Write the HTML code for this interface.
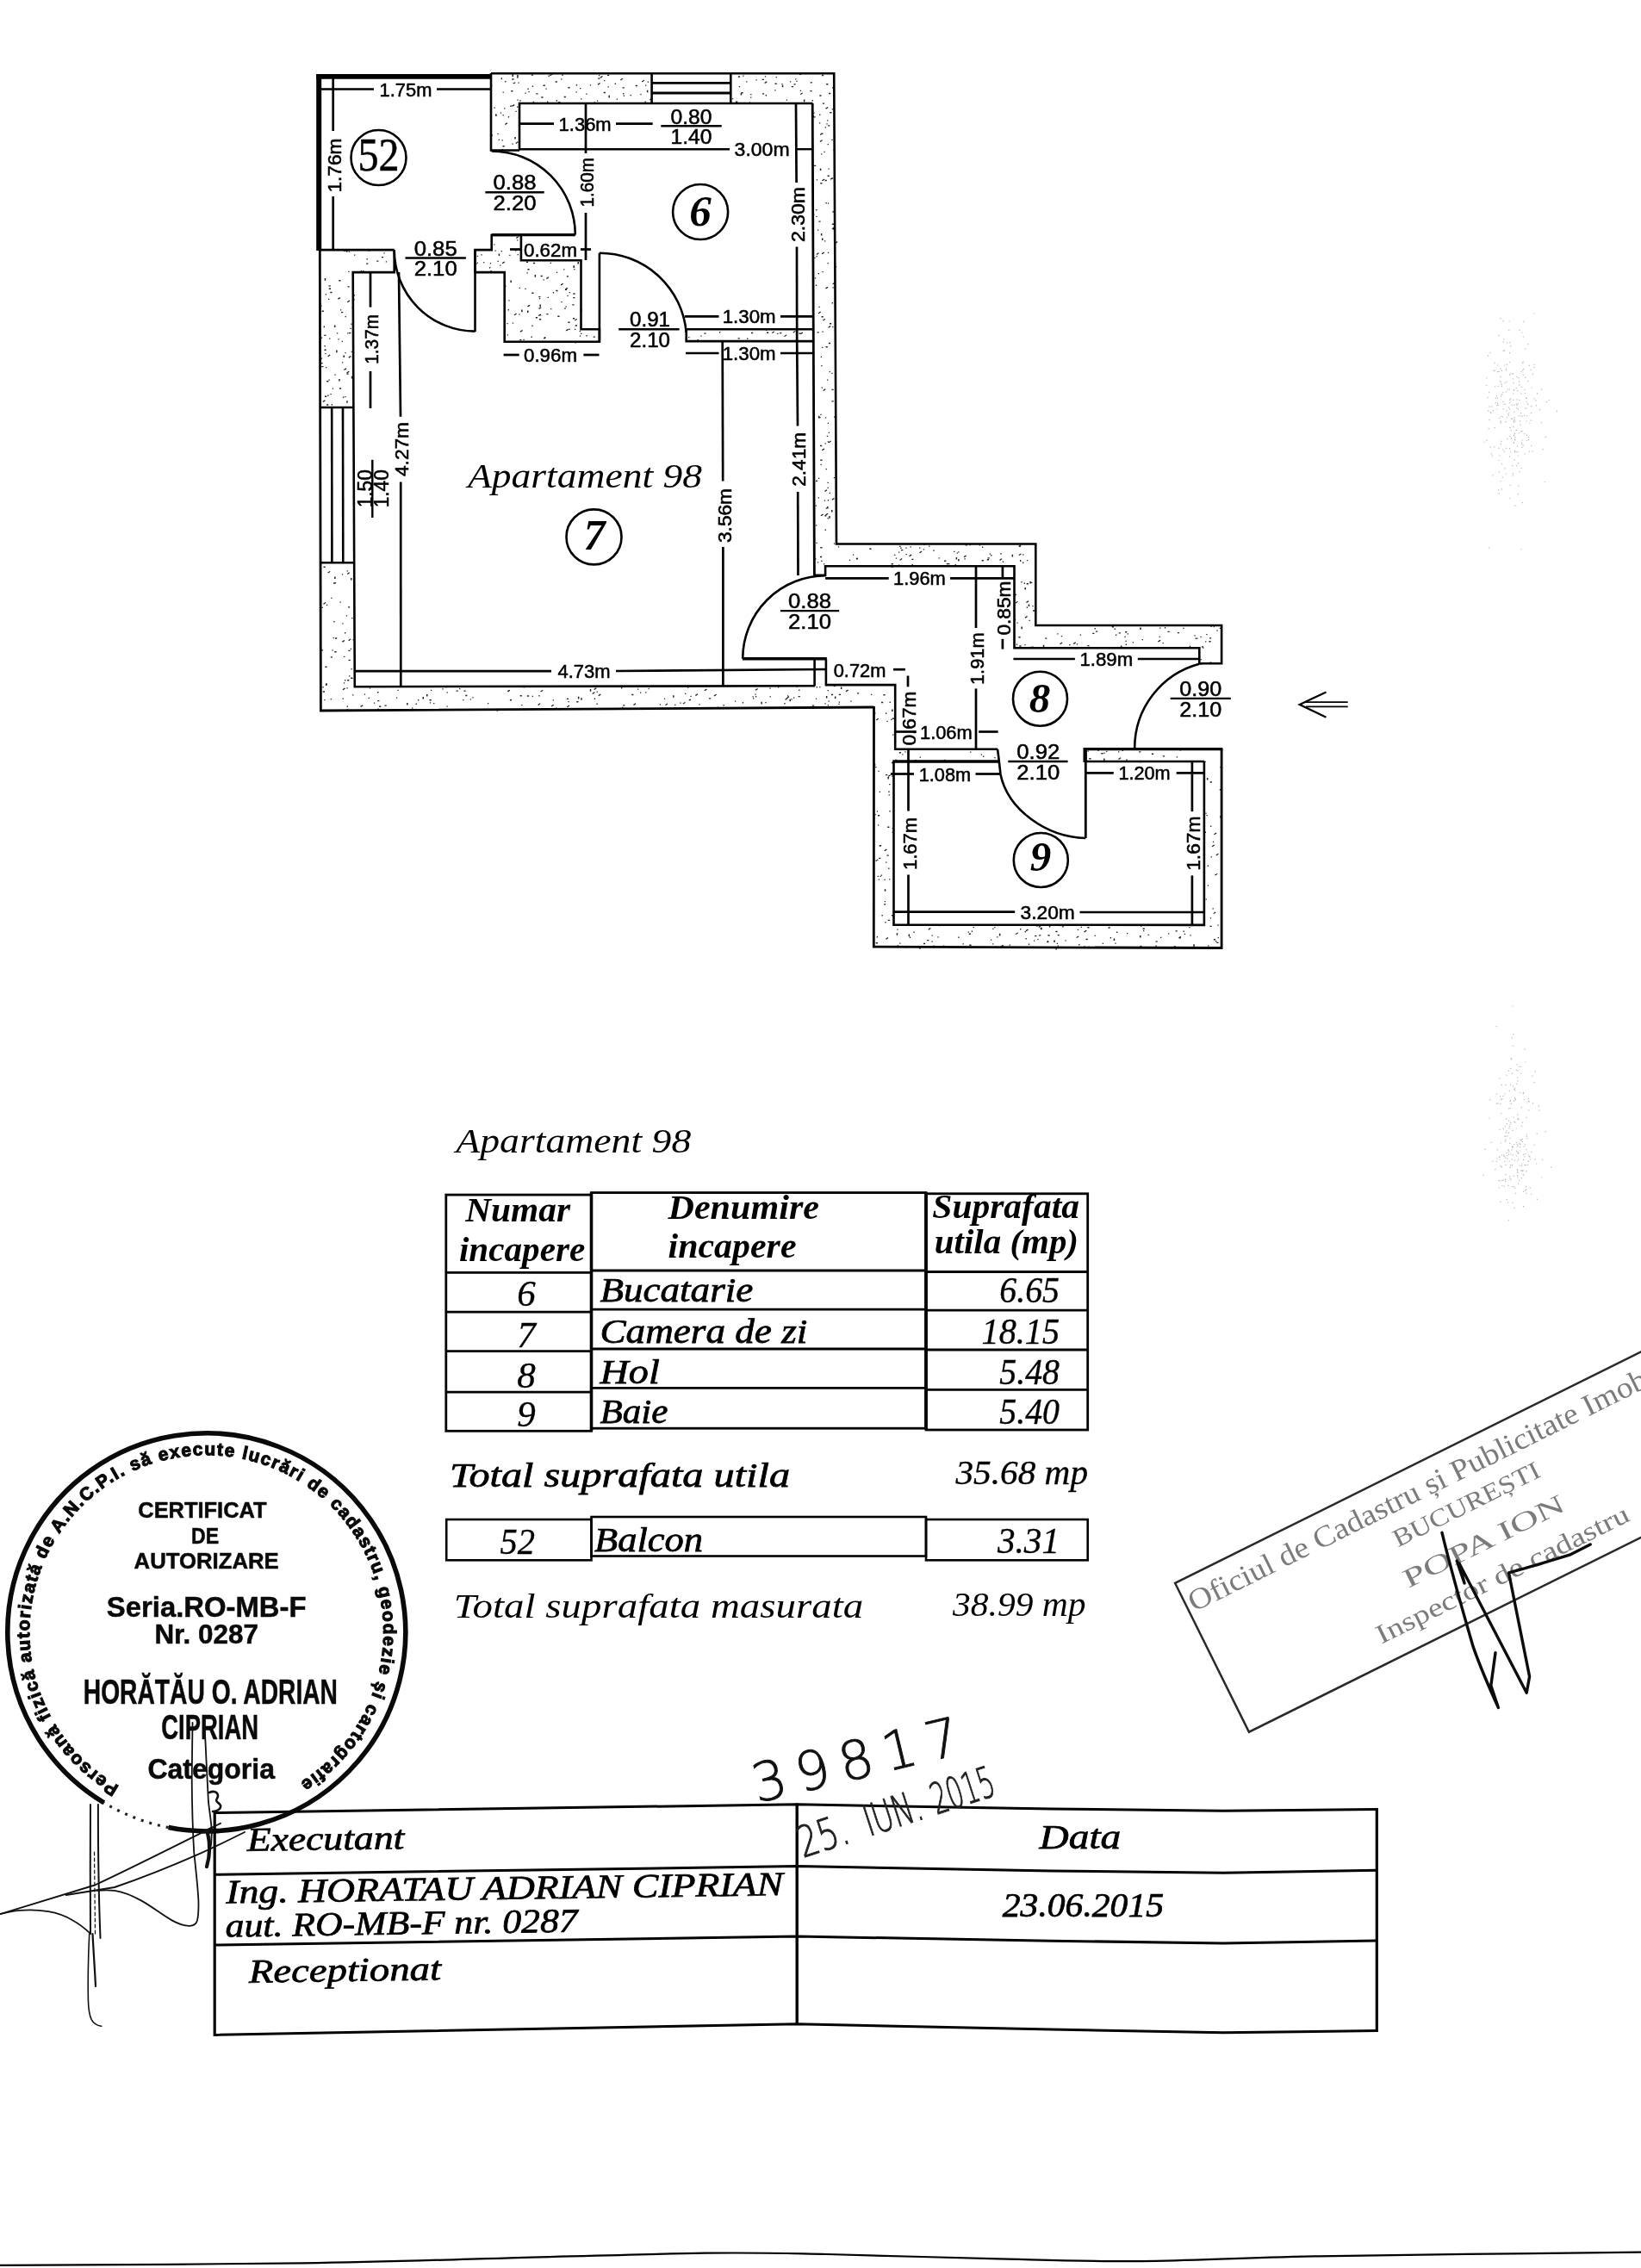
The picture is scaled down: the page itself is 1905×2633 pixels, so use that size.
<!DOCTYPE html>
<html lang="ro">
<head>
<meta charset="utf-8">
<title>Apartament 98 - releveu</title>
<style>
html,body{margin:0;padding:0;background:#fff;}
body{width:1905px;height:2633px;overflow:hidden;}
svg{display:block;opacity:0.999;will-change:transform;}
</style>
</head>
<body>
<svg width="1905" height="2633" viewBox="0 0 1905 2633">
<rect x="0" y="0" width="1905" height="2633" fill="#fff"/>
<g stroke="#000" fill="none" stroke-linecap="butt" stroke-linejoin="miter">
<path d="M630.6,98.5h2.2v1.4h-2.2zM583.5,133h1.3v1.3h-1.3zM580.8,130.4h1.3v1.3h-1.3zM651.1,91.3h1.3v1.3h-1.3zM593.2,105h2.2v1.4h-2.2zM578.7,161.8h1.3v1.3h-1.3zM597,95.5h1.3v1.3h-1.3zM722.6,101.2h2.2v1.4h-2.2zM689.5,118.3h1.3v1.3h-1.3zM581.7,90.3h1.3v1.3h-1.3zM654.7,111.8h2.2v1.4h-2.2zM700.7,106.8h2.2v1.4h-2.2zM706.4,110.8h1.5v2.6h-1.5zM592.1,122.4h2.2v1.4h-2.2zM598.4,128.8h1.3v1.3h-1.3zM694.2,90.4h2.2v1.4h-2.2zM723.7,110.5h1.3v1.3h-1.3zM695,87h1.3v1.3h-1.3zM601.4,95.5h1.3v1.3h-1.3zM713.7,96.6h1.3v1.3h-1.3zM585.1,125.2h1.3v1.3h-1.3zM731.6,109.9h1.3v1.3h-1.3zM749.1,98.5h1.3v1.3h-1.3zM613.4,105.9h1.3v1.3h-1.3zM680.2,108.5h1.3v1.3h-1.3zM648.3,118h2.2v1.4h-2.2zM696.4,89.8l2.6,-1.8l0.9,0.9l-2.6,1.8zM644.6,94.3h2.2v1.4h-2.2zM581.6,91h1.3v1.3h-1.3zM600.4,115.4h1.3v1.3h-1.3zM570,98.5h1.3v1.3h-1.3zM638,87.3l2.6,-1.8l0.9,0.9l-2.6,1.8zM684.8,98.3h1.3v1.3h-1.3zM635,117.6h1.3v1.3h-1.3zM586.1,94.1h1.3v1.3h-1.3zM600.2,87.1h1.5v2.6h-1.5zM668.8,98.1h1.3v1.3h-1.3zM575.1,132.3h1.5v2.6h-1.5zM618.8,117.8h1.3v1.3h-1.3zM715.7,114.5h1.3v1.3h-1.3zM636.5,87.6h1.3v1.3h-1.3zM622.3,108.2h2.2v1.4h-2.2zM748.6,117.6h1.3v1.3h-1.3zM612.4,102.6h1.3v1.3h-1.3zM585.9,144.1l2.6,-1.8l0.9,0.9l-2.6,1.8zM659.4,101h2.2v1.4h-2.2zM705.5,100.2h1.3v1.3h-1.3zM598.3,166l2.6,-1.8l0.9,0.9l-2.6,1.8zM597.3,159h1.5v2.6h-1.5zM692.9,116.4h1.3v1.3h-1.3zM594.5,86.3h1.5v2.6h-1.5zM609.5,107.5h1.3v1.3h-1.3zM594.5,166.4h1.3v1.3h-1.3zM573.5,124.4h1.3v1.3h-1.3zM570.7,156.5h1.3v1.3h-1.3zM674.1,114.2h1.3v1.3h-1.3zM589.8,135.1h1.3v1.3h-1.3zM595.6,95.9h1.3v1.3h-1.3zM583.6,106.5h1.3v1.3h-1.3zM737.7,98.8h2.2v1.4h-2.2zM693.5,97.8l2.6,-1.8l0.9,0.9l-2.6,1.8zM750.9,104.7h1.5v2.6h-1.5zM600.2,123.6h1.3v1.3h-1.3zM633.4,102.5h1.3v1.3h-1.3zM705,86.7h2.2v1.4h-2.2zM652.4,86.6h1.3v1.3h-1.3zM582,173.2h2.2v1.4h-2.2zM751.7,94.4h1.3v1.3h-1.3zM577.4,154.7h1.3v1.3h-1.3zM594.2,122.8l2.6,-1.8l0.9,0.9l-2.6,1.8zM723.1,108.1h1.3v1.3h-1.3zM701,93h1.3v1.3h-1.3zM583.5,169h2.2v1.4h-2.2zM719.9,92.5l2.6,-1.8l0.9,0.9l-2.6,1.8zM582.5,162.2h1.3v1.3h-1.3zM743.3,109h1.3v1.3h-1.3zM668.5,106.3h1.3v1.3h-1.3zM600.2,89.5h1.3v1.3h-1.3zM628.3,112.3h2.2v1.4h-2.2zM603.3,116.1h1.3v1.3h-1.3zM616.8,86.4h2.2v1.4h-2.2zM673,102h1.3v1.3h-1.3zM744.8,94.5l2.6,-1.8l0.9,0.9l-2.6,1.8zM753.7,115.7l2.6,-1.8l0.9,0.9l-2.6,1.8zM645.7,116.1h1.3v1.3h-1.3zM594.3,91.3h2.2v1.4h-2.2zM617.8,99.6h1.3v1.3h-1.3z" fill="#222" stroke="none"/>
<path d="M1396.2,751.5h1.3v1.3h-1.3zM962.6,430.9h1.3v1.3h-1.3zM965,592h1.5v2.6h-1.5zM1405.5,726.6h1.3v1.3h-1.3zM1109.6,646.9h1.5v2.6h-1.5zM968.1,483.5h1.3v1.3h-1.3zM862.2,87.5h1.3v1.3h-1.3zM957.7,147.2h1.3v1.3h-1.3zM860.4,107.1h2.2v1.4h-2.2zM1227.2,735.2h1.3v1.3h-1.3zM966.2,329.4l2.6,-1.8l0.9,0.9l-2.6,1.8zM958,334.6l2.6,-1.8l0.9,0.9l-2.6,1.8zM871.2,108.9h1.3v1.3h-1.3zM1393.4,738.7h1.3v1.3h-1.3zM952.3,635h2.2v1.4h-2.2zM960.5,601h1.3v1.3h-1.3zM884.9,108.2h2.2v1.4h-2.2zM1118.6,646.3l2.6,-1.8l0.9,0.9l-2.6,1.8zM1180.4,722.4h1.3v1.3h-1.3zM1089.5,647.2h1.3v1.3h-1.3zM940.7,95.2h2.2v1.4h-2.2zM1306.7,747.6h1.3v1.3h-1.3zM1201.6,650.1h1.3v1.3h-1.3zM966.7,265.1h1.3v1.3h-1.3zM951.8,195.5h1.5v2.6h-1.5zM1178.6,689.8h1.3v1.3h-1.3zM1072.7,631.6h1.3v1.3h-1.3zM961.7,501.7h1.3v1.3h-1.3zM947.5,297h1.3v1.3h-1.3zM1272,732.4h2.2v1.4h-2.2zM928.8,104.7h1.3v1.3h-1.3zM1055.1,645.3l2.6,-1.8l0.9,0.9l-2.6,1.8zM965.3,161.7h1.3v1.3h-1.3zM953.2,423.9h1.3v1.3h-1.3zM970.4,564.4h1.3v1.3h-1.3zM965.5,265.4l2.6,-1.8l0.9,0.9l-2.6,1.8zM965.7,351.1h1.3v1.3h-1.3zM952.3,533.5h2.2v1.4h-2.2zM1293.6,729.6h1.3v1.3h-1.3zM967.8,554h1.3v1.3h-1.3zM1270.6,729.1h1.3v1.3h-1.3zM972.8,634.3h1.3v1.3h-1.3zM954,86.8h2.2v1.4h-2.2zM960.5,559.8h1.3v1.3h-1.3zM1163.8,651.6h1.3v1.3h-1.3zM951.3,110.3h2.2v1.4h-2.2zM1058.3,648.7h2.2v1.4h-2.2zM1185.4,727.6h1.5v2.6h-1.5zM856.9,88.3h2.2v1.4h-2.2zM921.5,97.2h2.2v1.4h-2.2zM954.8,119.4h2.2v1.4h-2.2zM1191,699.1l2.6,-1.8l0.9,0.9l-2.6,1.8zM1182.4,644.2l2.6,-1.8l0.9,0.9l-2.6,1.8zM962.2,599.1h1.5v2.6h-1.5zM965.8,259.6h2.2v1.4h-2.2zM1178.4,699.7l2.6,-1.8l0.9,0.9l-2.6,1.8zM957.6,208.8h2.2v1.4h-2.2zM932.9,115.6h1.5v2.6h-1.5zM859.7,108h1.5v2.6h-1.5zM1314.7,745.3h1.3v1.3h-1.3zM951,142.3h1.3v1.3h-1.3zM1213.2,740.4h2.2v1.4h-2.2zM944.1,248.4h1.3v1.3h-1.3zM927.9,86.3l2.6,-1.8l0.9,0.9l-2.6,1.8zM960.1,139.3h1.3v1.3h-1.3zM963.3,130h2.2v1.4h-2.2zM1345.5,738.8h1.3v1.3h-1.3zM952,155.4h1.3v1.3h-1.3zM959.2,97.1h2.2v1.4h-2.2zM1185.3,675.1h1.3v1.3h-1.3zM1290.7,727.1h2.2v1.4h-2.2zM962.7,571.8h1.3v1.3h-1.3zM1325.7,742h1.3v1.3h-1.3zM854.1,117.5h2.2v1.4h-2.2zM1349.5,746h1.3v1.3h-1.3zM1150.2,644.1h1.3v1.3h-1.3zM952,516.8h2.2v1.4h-2.2zM1145.8,649.1h2.2v1.4h-2.2zM946.9,330.6h1.3v1.3h-1.3zM957,279.3h1.3v1.3h-1.3zM951.5,164l2.6,-1.8l0.9,0.9l-2.6,1.8zM871.1,112.4h1.3v1.3h-1.3zM960.9,292.7h1.3v1.3h-1.3zM1038.1,643.8h1.3v1.3h-1.3zM965.7,126.3h1.3v1.3h-1.3zM960.4,565.8h1.3v1.3h-1.3zM943.8,134.2h1.3v1.3h-1.3zM953.9,522.3l2.6,-1.8l0.9,0.9l-2.6,1.8zM953.2,650.6h1.3v1.3h-1.3zM1058.5,654.8h1.3v1.3h-1.3zM956.8,580.4h1.3v1.3h-1.3zM959.4,143.3h1.3v1.3h-1.3zM1403.4,744.1h2.2v1.4h-2.2zM1268.2,734.7h2.2v1.4h-2.2zM1308.7,735.2h1.3v1.3h-1.3zM951.9,645.8h2.2v1.4h-2.2zM1393.5,764.9h1.3v1.3h-1.3zM944.3,130.5h1.3v1.3h-1.3zM949.9,482.8h1.5v2.6h-1.5zM1191.7,677.1h2.2v1.4h-2.2zM960.1,587.9h1.5v2.6h-1.5zM955.3,453l2.6,-1.8l0.9,0.9l-2.6,1.8zM969,308.9h2.2v1.4h-2.2zM923.2,91.2h1.3v1.3h-1.3zM899.2,104.2h1.3v1.3h-1.3zM940.4,104.9h2.2v1.4h-2.2zM1044.2,633.6h1.3v1.3h-1.3zM1178.2,690h1.3v1.3h-1.3zM907.8,98.7h1.5v2.6h-1.5zM950,554.7h1.3v1.3h-1.3zM949,266.4h1.3v1.3h-1.3zM1194.5,719.8h1.3v1.3h-1.3zM1148.7,642.4h1.3v1.3h-1.3zM946.2,648.2h1.3v1.3h-1.3zM1051.3,635.4h1.3v1.3h-1.3zM1120.7,632.1h2.2v1.4h-2.2zM949.7,577.2h1.3v1.3h-1.3zM963,375h2.2v1.4h-2.2zM1177.9,718.8h1.3v1.3h-1.3zM1139.7,650.1h2.2v1.4h-2.2zM1056.5,634.2h1.3v1.3h-1.3zM1295,736.6h1.3v1.3h-1.3zM1415.8,728.8h1.3v1.3h-1.3zM1189.3,747.9h1.3v1.3h-1.3zM1043,640.5h1.3v1.3h-1.3zM961,235.5h1.3v1.3h-1.3zM1404.3,768.4h2.2v1.4h-2.2zM961.5,513.4l2.6,-1.8l0.9,0.9l-2.6,1.8zM1096.1,650.5h2.2v1.4h-2.2zM952.9,271h1.5v2.6h-1.5zM956,654.2h1.3v1.3h-1.3zM1107.1,639.7h1.3v1.3h-1.3zM945.3,298.8h1.3v1.3h-1.3zM1399.1,744.3h1.3v1.3h-1.3zM960.5,304.9h1.3v1.3h-1.3zM1083.3,638.6h1.3v1.3h-1.3zM1071.8,637.2h1.3v1.3h-1.3zM1191.9,649.9h1.3v1.3h-1.3zM1306.4,743.8h1.3v1.3h-1.3zM958.7,589.4h1.3v1.3h-1.3zM1247.7,751.8h2.2v1.4h-2.2zM1119.5,648.3h1.3v1.3h-1.3zM1067,641.4l2.6,-1.8l0.9,0.9l-2.6,1.8zM924.3,93.8h1.3v1.3h-1.3zM961.9,397.8h2.2v1.4h-2.2zM869.7,118.4h1.3v1.3h-1.3zM966.1,379h1.3v1.3h-1.3zM1241.2,748h1.3v1.3h-1.3zM969.1,281.9l2.6,-1.8l0.9,0.9l-2.6,1.8zM948.5,385.2h2.2v1.4h-2.2zM1043.1,655.4h1.3v1.3h-1.3zM958.5,235.1h1.3v1.3h-1.3zM947.1,243.1h1.3v1.3h-1.3zM1344,744.6l2.6,-1.8l0.9,0.9l-2.6,1.8zM1306.1,733h2.2v1.4h-2.2zM957.2,598.2h2.2v1.4h-2.2zM971.3,656.5h1.3v1.3h-1.3zM907.3,97h1.3v1.3h-1.3zM1182.2,634l2.6,-1.8l0.9,0.9l-2.6,1.8zM1249.8,747.2h1.3v1.3h-1.3zM993.8,648h2.2v1.4h-2.2zM887.9,88.3h1.3v1.3h-1.3zM1380.7,749.7h1.3v1.3h-1.3zM957,570l2.6,-1.8l0.9,0.9l-2.6,1.8zM957.9,484.2h1.3v1.3h-1.3zM1198.4,703h1.3v1.3h-1.3zM960.7,167h1.3v1.3h-1.3zM947,609.2h1.3v1.3h-1.3zM954.9,371.7l2.6,-1.8l0.9,0.9l-2.6,1.8zM1193.7,701.4h1.5v2.6h-1.5zM1039.8,647.4h1.3v1.3h-1.3zM1305.4,738.8h1.3v1.3h-1.3zM966.5,333.3h1.3v1.3h-1.3zM1146.5,647.2h2.2v1.4h-2.2zM1393.3,770.3h2.2v1.4h-2.2zM966.2,101.1h1.3v1.3h-1.3zM900.6,88.9h1.3v1.3h-1.3zM1191.7,704.6h1.3v1.3h-1.3zM961.4,195.5h1.3v1.3h-1.3zM952.7,413.7h1.3v1.3h-1.3zM960.8,490.7h1.3v1.3h-1.3zM944.4,135.2h2.2v1.4h-2.2zM958.1,125.8l2.6,-1.8l0.9,0.9l-2.6,1.8zM1366.9,733.9h2.2v1.4h-2.2zM958,597.6l2.6,-1.8l0.9,0.9l-2.6,1.8zM918.8,99.9h2.2v1.4h-2.2zM947.8,208.3h1.3v1.3h-1.3zM990,643.5h1.3v1.3h-1.3zM1197.3,750.5h2.2v1.4h-2.2zM1112.1,648.9h1.5v2.6h-1.5zM1179.9,747.6h1.3v1.3h-1.3zM884.7,91.7h2.2v1.4h-2.2zM965.3,432.8h1.3v1.3h-1.3zM1184,649.9h1.3v1.3h-1.3zM963.6,207.8l2.6,-1.8l0.9,0.9l-2.6,1.8zM1183.5,633.8h1.3v1.3h-1.3zM985.9,649.7h1.3v1.3h-1.3zM951.1,132.6h1.3v1.3h-1.3zM942.6,116.1h1.3v1.3h-1.3zM961.1,145.2h2.2v1.4h-2.2zM958.6,544h1.3v1.3h-1.3zM850.1,114h1.3v1.3h-1.3zM1183.3,749.3h2.2v1.4h-2.2zM960,440.5h1.3v1.3h-1.3zM953.7,449.5h1.3v1.3h-1.3zM969.4,394.8h1.3v1.3h-1.3zM966.2,245.2h2.2v1.4h-2.2zM1230,747.4l2.6,-1.8l0.9,0.9l-2.6,1.8zM957.6,614.6h1.3v1.3h-1.3zM1108.6,655.1h1.3v1.3h-1.3zM960.6,203.6h2.2v1.4h-2.2zM1100.2,653.9h2.2v1.4h-2.2zM949,652.3h1.3v1.3h-1.3zM1098.8,653.9h2.2v1.4h-2.2zM1197,675.7h1.3v1.3h-1.3zM960.8,580.1h1.3v1.3h-1.3zM1231.8,738h1.3v1.3h-1.3zM952.3,480.7h1.3v1.3h-1.3zM967.1,110.1h2.2v1.4h-2.2zM949.6,363.4l2.6,-1.8l0.9,0.9l-2.6,1.8zM950.4,355.7h1.3v1.3h-1.3zM1188.7,676.6h1.3v1.3h-1.3zM954.4,384.5h1.3v1.3h-1.3zM1412.4,731.4h1.3v1.3h-1.3zM958.6,402h2.2v1.4h-2.2zM945.1,191.7h2.2v1.4h-2.2zM968.9,315.6h1.3v1.3h-1.3zM1161.4,642.1h1.3v1.3h-1.3zM1189.5,716.8l2.6,-1.8l0.9,0.9l-2.6,1.8zM1245.7,747.1l2.6,-1.8l0.9,0.9l-2.6,1.8zM1189.5,681.9h1.5v2.6h-1.5zM1262.3,748.9h2.2v1.4h-2.2zM1182.4,739.1h2.2v1.4h-2.2zM1045.3,635.6h1.3v1.3h-1.3zM1034.8,656.5h1.5v2.6h-1.5zM1373.3,728.8h1.3v1.3h-1.3zM1355.5,732.7h2.2v1.4h-2.2zM954,209.3l2.6,-1.8l0.9,0.9l-2.6,1.8zM1046.1,637.9h2.2v1.4h-2.2zM1174.6,643.8h1.5v2.6h-1.5zM965.4,451.7h2.2v1.4h-2.2zM946.6,586.4h1.3v1.3h-1.3zM1351.9,728.1h1.3v1.3h-1.3zM1389.3,740.5h1.3v1.3h-1.3zM961.1,379.9l2.6,-1.8l0.9,0.9l-2.6,1.8zM950.4,256.4h2.2v1.4h-2.2zM1153.3,656.7h1.3v1.3h-1.3zM957.6,514.3h1.3v1.3h-1.3zM947.4,629.7h1.3v1.3h-1.3zM1067.1,635.4h1.3v1.3h-1.3zM1387.6,740.6h1.3v1.3h-1.3zM1187.2,643.3h1.3v1.3h-1.3zM1140,634.6h1.3v1.3h-1.3zM965.5,465.2h2.2v1.4h-2.2zM1044.1,649.9l2.6,-1.8l0.9,0.9l-2.6,1.8zM967.8,158.1h2.2v1.4h-2.2zM899.5,96.6h2.2v1.4h-2.2zM1346.1,728.5h1.3v1.3h-1.3zM1386.4,737.3h1.3v1.3h-1.3zM965.9,206.4h1.3v1.3h-1.3zM912.7,115.5h1.3v1.3h-1.3zM947.2,250.7h1.3v1.3h-1.3zM1078.1,633.4h1.3v1.3h-1.3zM1110.6,641.5h1.3v1.3h-1.3zM877.5,92.3h1.3v1.3h-1.3zM1125.5,632h1.3v1.3h-1.3zM1404,740.2h2.2v1.4h-2.2zM1184,650.8h1.3v1.3h-1.3zM1408.8,726.9h1.3v1.3h-1.3zM994.3,647.6h1.3v1.3h-1.3zM1300.9,749.6h1.5v2.6h-1.5zM953.5,367.1h2.2v1.4h-2.2zM953.1,154.6h2.2v1.4h-2.2zM954.1,402.7h1.3v1.3h-1.3zM888.7,110.1h1.3v1.3h-1.3zM928.7,109.2l2.6,-1.8l0.9,0.9l-2.6,1.8zM916.9,94.2h1.3v1.3h-1.3zM965.4,579.8l2.6,-1.8l0.9,0.9l-2.6,1.8zM887.2,96.1l2.6,-1.8l0.9,0.9l-2.6,1.8zM945.9,322.3h1.3v1.3h-1.3zM953.1,178.2h1.3v1.3h-1.3zM1394.8,750.2h2.2v1.4h-2.2zM1187,652.6h1.3v1.3h-1.3zM967.9,630.4h1.3v1.3h-1.3zM1051.5,643h1.3v1.3h-1.3zM1195.4,674.9h1.5v2.6h-1.5zM1323.2,728.5h1.5v2.6h-1.5zM954,276.5h1.5v2.6h-1.5zM1034.6,654.1h2.2v1.4h-2.2zM1210.8,748.7h1.5v2.6h-1.5zM951.3,483.9h1.3v1.3h-1.3zM960.7,512.3h1.3v1.3h-1.3zM1112.2,640.3h1.3v1.3h-1.3zM1009.3,636.5h2.2v1.4h-2.2zM1000.4,656.7h1.3v1.3h-1.3zM1298.6,734.2h2.2v1.4h-2.2zM1160.1,650l2.6,-1.8l0.9,0.9l-2.6,1.8zM949.7,316.9h1.3v1.3h-1.3zM1136.8,632.3h1.3v1.3h-1.3zM956.5,175.8h1.3v1.3h-1.3zM952.5,538.7h1.3v1.3h-1.3zM967.6,173.1h2.2v1.4h-2.2zM953.7,294.3l2.6,-1.8l0.9,0.9l-2.6,1.8zM962.1,107.8h2.2v1.4h-2.2zM857.8,100h1.3v1.3h-1.3zM947,557.7h2.2v1.4h-2.2zM1253.7,736.4h1.3v1.3h-1.3zM1400.2,736h1.3v1.3h-1.3zM866.1,94.2h1.3v1.3h-1.3zM952.5,598.4l2.6,-1.8l0.9,0.9l-2.6,1.8zM954.4,315h1.3v1.3h-1.3zM947.4,295l2.6,-1.8l0.9,0.9l-2.6,1.8zM1199,708.3h2.2v1.4h-2.2zM952.3,212.1h2.2v1.4h-2.2zM959.8,505.8h1.3v1.3h-1.3z" fill="#222" stroke="none"/>
<path d="M910,390.2l2.6,-1.8l0.9,0.9l-2.6,1.8zM809.6,394h1.3v1.3h-1.3zM890,385.5h2.2v1.4h-2.2zM856.6,392.2h2.2v1.4h-2.2zM817.4,386.4h2.2v1.4h-2.2zM799.1,391h1.3v1.3h-1.3zM902.2,386.8h1.3v1.3h-1.3zM867.1,392.6h1.3v1.3h-1.3zM872,385.8h2.2v1.4h-2.2zM835,385.1h1.3v1.3h-1.3zM928.8,387.3l2.6,-1.8l0.9,0.9l-2.6,1.8zM905.2,385.9h2.2v1.4h-2.2zM798,395.2h2.2v1.4h-2.2zM813.3,389.4h1.3v1.3h-1.3zM895.7,386.2l2.6,-1.8l0.9,0.9l-2.6,1.8zM888.6,383.2l2.6,-1.8l0.9,0.9l-2.6,1.8zM927.3,386.4h2.2v1.4h-2.2zM923.7,394.5h1.3v1.3h-1.3zM920.2,385.7l2.6,-1.8l0.9,0.9l-2.6,1.8z" fill="#222" stroke="none"/>
<path d="M650.6,330.6l2.6,-1.8l0.9,0.9l-2.6,1.8zM667.5,396h1.5v2.6h-1.5zM634.3,363.9h2.2v1.4h-2.2zM609.3,334.7h1.3v1.3h-1.3zM582.7,305.3l2.6,-1.8l0.9,0.9l-2.6,1.8zM673.7,359.3h2.2v1.4h-2.2zM625.2,343.9h2.2v1.4h-2.2zM588.3,374.9h1.3v1.3h-1.3zM666.8,371.7l2.6,-1.8l0.9,0.9l-2.6,1.8zM588.6,388.2h1.3v1.3h-1.3zM616.5,390.6h1.3v1.3h-1.3zM552.2,305.7h1.3v1.3h-1.3zM670.5,303.9h1.5v2.6h-1.5zM654.1,312.3h1.3v1.3h-1.3zM665.2,344.9h2.2v1.4h-2.2zM600.6,288.8h1.3v1.3h-1.3zM658.3,342.7h1.3v1.3h-1.3zM586.3,331.8h1.3v1.3h-1.3zM666.2,312h1.3v1.3h-1.3zM607.4,393.7h1.3v1.3h-1.3zM612.4,312h2.2v1.4h-2.2zM655.9,335.6l2.6,-1.8l0.9,0.9l-2.6,1.8zM665,369.1h2.2v1.4h-2.2zM590.3,348.2h1.3v1.3h-1.3zM617.3,339.5h2.2v1.4h-2.2zM591.2,295.8h1.3v1.3h-1.3zM674.1,386.7h1.3v1.3h-1.3zM603.5,384.8l2.6,-1.8l0.9,0.9l-2.6,1.8zM692.8,395.8h1.3v1.3h-1.3zM561.1,303.9h1.3v1.3h-1.3zM553.7,304.4h1.3v1.3h-1.3zM569.3,313.9h1.3v1.3h-1.3zM667,381.8h1.3v1.3h-1.3zM667.7,377.3h2.2v1.4h-2.2zM594.8,374.4h1.3v1.3h-1.3zM651.3,349.9h1.3v1.3h-1.3zM625.9,346h1.3v1.3h-1.3zM660.6,338.9h1.3v1.3h-1.3zM635.7,344.7h1.3v1.3h-1.3zM625.1,358.1l2.6,-1.8l0.9,0.9l-2.6,1.8zM626,370h2.2v1.4h-2.2zM568.8,305h1.3v1.3h-1.3zM602.6,333.8h1.3v1.3h-1.3zM605.1,359.6h1.5v2.6h-1.5zM597.7,290.9l2.6,-1.8l0.9,0.9l-2.6,1.8zM611.5,316.3h1.3v1.3h-1.3zM656.7,383.6l2.6,-1.8l0.9,0.9l-2.6,1.8zM604.8,273.9h1.3v1.3h-1.3zM600.6,294.9h1.3v1.3h-1.3zM610.9,303.5h2.2v1.4h-2.2zM598.9,276l2.6,-1.8l0.9,0.9l-2.6,1.8zM660.4,381.6h1.3v1.3h-1.3zM589.6,359.1h1.3v1.3h-1.3zM592.4,325.4h1.5v2.6h-1.5zM659.4,373.5h2.2v1.4h-2.2zM577.5,302.8h1.3v1.3h-1.3zM578.7,294.5h1.5v2.6h-1.5zM665.5,308.3h1.5v2.6h-1.5zM574.5,290.4h1.3v1.3h-1.3zM665.4,340.3h2.2v1.4h-2.2zM600.1,278.2h1.3v1.3h-1.3zM655.9,335.7h2.2v1.4h-2.2zM580.2,307.5h1.3v1.3h-1.3zM674.4,360h1.3v1.3h-1.3zM618.9,304.8h2.2v1.4h-2.2zM655.3,357.6h1.3v1.3h-1.3zM672.6,384h1.3v1.3h-1.3zM626.4,353.5h1.5v2.6h-1.5zM645.3,336.8h2.2v1.4h-2.2zM630.5,324.2h1.3v1.3h-1.3zM596.5,365.4l2.6,-1.8l0.9,0.9l-2.6,1.8zM617.4,377.6h1.3v1.3h-1.3zM626,365.1h2.2v1.4h-2.2zM645.8,315.8h1.3v1.3h-1.3zM633.9,323.1l2.6,-1.8l0.9,0.9l-2.6,1.8zM647.3,366.5h2.2v1.4h-2.2zM656.4,355.5h1.3v1.3h-1.3zM621.8,368h2.2v1.4h-2.2zM641.8,339.1h1.3v1.3h-1.3zM612,355.6l2.6,-1.8l0.9,0.9l-2.6,1.8zM680.4,389.1h1.3v1.3h-1.3zM581.7,291h1.3v1.3h-1.3zM612,360.5h1.5v2.6h-1.5zM632.1,390.9h1.3v1.3h-1.3zM568,310.1h1.3v1.3h-1.3zM620.6,319.1h1.5v2.6h-1.5zM558.4,295.3h1.3v1.3h-1.3zM631.1,391.8h2.2v1.4h-2.2zM603.2,393.9h2.2v1.4h-2.2zM638.7,304.7h1.3v1.3h-1.3zM627.6,319.8h2.2v1.4h-2.2zM624.6,366.2l2.6,-1.8l0.9,0.9l-2.6,1.8zM657.8,320.2h2.2v1.4h-2.2zM553.8,296.8h1.3v1.3h-1.3zM602.3,364.3h1.3v1.3h-1.3zM688.7,390.4h2.2v1.4h-2.2zM672.9,389.4h1.3v1.3h-1.3zM664.3,353.2h2.2v1.4h-2.2zM573.1,283.3h1.3v1.3h-1.3zM639.1,358h1.3v1.3h-1.3z" fill="#222" stroke="none"/>
<path d="M393.2,440h1.5v2.6h-1.5zM407.4,375.6h1.3v1.3h-1.3zM377.7,341.3h1.3v1.3h-1.3zM392.4,393.3h1.3v1.3h-1.3zM442.9,297.9h2.2v1.4h-2.2zM400.6,366.9h1.3v1.3h-1.3zM402.2,465.2h1.5v2.6h-1.5zM388.4,434.4h1.3v1.3h-1.3zM418.7,314.1h1.3v1.3h-1.3zM376.7,323.1h1.5v2.6h-1.5zM404.2,314.8h1.3v1.3h-1.3zM376.5,401.1h1.3v1.3h-1.3zM390.1,406.6h1.5v2.6h-1.5zM372.5,420.9h2.2v1.4h-2.2zM372.3,354.4h1.3v1.3h-1.3zM400.3,471.9h1.3v1.3h-1.3zM381.5,331.2h1.3v1.3h-1.3zM406.4,380.8h1.3v1.3h-1.3zM385.8,450.5h1.3v1.3h-1.3zM387.9,377.4h1.5v2.6h-1.5zM383.3,338.8h2.2v1.4h-2.2zM400.3,460h1.3v1.3h-1.3zM391.9,346.8l2.6,-1.8l0.9,0.9l-2.6,1.8zM380.1,413.4l2.6,-1.8l0.9,0.9l-2.6,1.8zM375.7,378.5h1.3v1.3h-1.3zM381.8,334.6h2.2v1.4h-2.2zM421,314h1.3v1.3h-1.3zM377,459.5h2.2v1.4h-2.2zM393.3,325.1h2.2v1.4h-2.2zM398.5,412.4h1.5v2.6h-1.5zM375.6,379h1.3v1.3h-1.3zM380.2,458.6h1.3v1.3h-1.3zM378.1,426h1.3v1.3h-1.3zM382.1,392.4h1.3v1.3h-1.3zM394,450.3h2.2v1.4h-2.2zM409,372.6h1.3v1.3h-1.3zM402.2,432.5l2.6,-1.8l0.9,0.9l-2.6,1.8zM397,420.2h1.3v1.3h-1.3zM372,415.4h2.2v1.4h-2.2zM399.8,472.1h2.2v1.4h-2.2zM399,429.1l2.6,-1.8l0.9,0.9l-2.6,1.8zM383.4,456.9h1.3v1.3h-1.3zM395,359.2h1.3v1.3h-1.3zM376.5,405.5h2.2v1.4h-2.2zM445.4,293.3h1.3v1.3h-1.3zM372.9,391.5h1.3v1.3h-1.3zM391,386.2h1.3v1.3h-1.3zM374.4,466.1l2.6,-1.8l0.9,0.9l-2.6,1.8zM377.3,410h1.3v1.3h-1.3zM381.4,440.5h1.3v1.3h-1.3zM405.1,385.9h2.2v1.4h-2.2zM376.3,388.7h2.2v1.4h-2.2zM404.3,414.8l2.6,-1.8l0.9,0.9l-2.6,1.8zM403.2,386.3h1.3v1.3h-1.3zM396,361.9h2.2v1.4h-2.2zM384.6,469.1h1.3v1.3h-1.3zM373.7,360.6h2.2v1.4h-2.2zM379.1,469.3h2.2v1.4h-2.2zM411,295.4h1.3v1.3h-1.3zM400.4,408.9h1.3v1.3h-1.3zM425.1,305.4h2.2v1.4h-2.2zM427.5,291.1l2.6,-1.8l0.9,0.9l-2.6,1.8zM409.8,373.3h1.3v1.3h-1.3zM403.5,332.2h2.2v1.4h-2.2zM425.5,300.1h1.3v1.3h-1.3zM396.7,395.8h1.3v1.3h-1.3zM382.5,331.2h1.3v1.3h-1.3zM409.7,342h2.2v1.4h-2.2zM447.8,303.2h1.3v1.3h-1.3zM381,346.8h1.3v1.3h-1.3zM408.6,356.6h2.2v1.4h-2.2zM407.6,407.7h1.3v1.3h-1.3zM447.8,315.7h1.3v1.3h-1.3zM437.2,302.4h2.2v1.4h-2.2zM373.3,424.9h2.2v1.4h-2.2zM399.1,290.6h2.2v1.4h-2.2zM402.9,350.3l2.6,-1.8l0.9,0.9l-2.6,1.8zM390.4,472.4h1.3v1.3h-1.3zM409.5,346.9h2.2v1.4h-2.2zM407.8,436.8h1.5v2.6h-1.5zM404.8,291.4h1.3v1.3h-1.3zM402,290.2h1.5v2.6h-1.5zM397.9,460.6h1.3v1.3h-1.3zM402.4,433.4h2.2v1.4h-2.2zM379.2,442.1h2.2v1.4h-2.2z" fill="#222" stroke="none"/>
<path d="M770.9,810.4h1.3v1.3h-1.3zM910.3,816.1h1.3v1.3h-1.3zM1027.9,1089.9l2.6,-1.8l0.9,0.9l-2.6,1.8zM811.3,817.2h1.3v1.3h-1.3zM1016.8,835.5l2.6,-1.8l0.9,0.9l-2.6,1.8zM591.9,812h2.2v1.4h-2.2zM689.2,800.1l2.6,-1.8l0.9,0.9l-2.6,1.8zM1094.5,883.2l2.6,-1.8l0.9,0.9l-2.6,1.8zM888.3,814.9h1.3v1.3h-1.3zM1399.6,1043.5h1.3v1.3h-1.3zM1023.5,1062.1h1.3v1.3h-1.3zM401.8,714.2h1.3v1.3h-1.3zM482.5,816.6h1.3v1.3h-1.3zM1400.9,902.9h1.5v2.6h-1.5zM1026.4,1020.7h1.3v1.3h-1.3zM1416.3,947.1h1.5v2.6h-1.5zM1032.4,941.1h1.3v1.3h-1.3zM1028.1,898.9h2.2v1.4h-2.2zM627.1,802.7l2.6,-1.8l0.9,0.9l-2.6,1.8zM375,700.9l2.6,-1.8l0.9,0.9l-2.6,1.8zM1258.9,1099.7h2.2v1.4h-2.2zM723.2,818.2h2.2v1.4h-2.2zM1152.2,1077.7h1.3v1.3h-1.3zM461.5,800.7h1.3v1.3h-1.3zM1381.4,1085.2h1.3v1.3h-1.3zM1405.6,994.3h1.3v1.3h-1.3zM1154.3,879h1.3v1.3h-1.3zM957.4,816.3h1.3v1.3h-1.3zM540.2,806.8h2.2v1.4h-2.2zM404.3,754.7h2.2v1.4h-2.2zM641.6,812.2h1.3v1.3h-1.3zM926.6,807.9h2.2v1.4h-2.2zM781.1,807.2h1.5v2.6h-1.5zM964.9,805.8h2.2v1.4h-2.2zM1233.2,1074h1.5v2.6h-1.5zM1405.1,958.6h1.3v1.3h-1.3zM752.5,798.9h1.3v1.3h-1.3zM1281,880.5h1.5v2.6h-1.5zM1125.3,1096.6h2.2v1.4h-2.2zM1404.7,907.3h2.2v1.4h-2.2zM1035.7,833.5h2.2v1.4h-2.2zM1341.5,1097.6h1.3v1.3h-1.3zM942.9,818.4h2.2v1.4h-2.2zM960.8,817.9h1.3v1.3h-1.3zM1026.1,1049.2h2.2v1.4h-2.2zM995,804.2h2.2v1.4h-2.2zM1374.8,1083.7h1.3v1.3h-1.3zM375.5,657.5h2.2v1.4h-2.2zM1019.4,894.8h1.3v1.3h-1.3zM1249.2,1088.2l2.6,-1.8l0.9,0.9l-2.6,1.8zM1347,1087.8h1.3v1.3h-1.3zM1368.4,1088.1h2.2v1.4h-2.2zM1190.5,1089.1h1.3v1.3h-1.3zM377.4,773.6h2.2v1.4h-2.2zM396.9,744.8l2.6,-1.8l0.9,0.9l-2.6,1.8zM903,797.1h1.3v1.3h-1.3zM1369.4,1086.9h1.5v2.6h-1.5zM1322.1,872.2h2.2v1.4h-2.2zM669.2,814.1h2.2v1.4h-2.2zM1322.2,1099.4l2.6,-1.8l0.9,0.9l-2.6,1.8zM625.3,807.1h1.3v1.3h-1.3zM383.8,762.2h2.2v1.4h-2.2zM1217.4,1085.5h1.3v1.3h-1.3zM726.5,821.7h1.3v1.3h-1.3zM1016.7,1094h2.2v1.4h-2.2zM1227.7,1084.9h2.2v1.4h-2.2zM911.1,811.8l2.6,-1.8l0.9,0.9l-2.6,1.8zM1025.4,806h2.2v1.4h-2.2zM1408.3,1060.2l2.6,-1.8l0.9,0.9l-2.6,1.8zM440.1,819.6h2.2v1.4h-2.2zM946.9,810.5h1.3v1.3h-1.3zM1020.9,981h2.2v1.4h-2.2zM438.4,822.6h1.3v1.3h-1.3zM1402.1,1097.2h1.3v1.3h-1.3zM639.7,819.5l2.6,-1.8l0.9,0.9l-2.6,1.8zM1050.4,872.2h1.3v1.3h-1.3zM1206.1,1085.2h2.2v1.4h-2.2zM921,809.5h1.3v1.3h-1.3zM485.1,812.1h1.3v1.3h-1.3zM981.5,802.3l2.6,-1.8l0.9,0.9l-2.6,1.8zM1020.1,995.7h2.2v1.4h-2.2zM1364.6,1080.2h2.2v1.4h-2.2zM1035.3,900.4h1.3v1.3h-1.3zM1034.9,1062.1h2.2v1.4h-2.2zM1398.7,965.6h1.3v1.3h-1.3zM386.6,740h1.3v1.3h-1.3zM380.1,664.7l2.6,-1.8l0.9,0.9l-2.6,1.8zM927.2,800.6h1.3v1.3h-1.3zM968.9,808.4h1.5v2.6h-1.5zM1189.5,1099.1h1.3v1.3h-1.3zM1280.6,1099.4h1.3v1.3h-1.3zM500,800.8h1.3v1.3h-1.3zM839.5,818.1h1.3v1.3h-1.3zM1035.6,960.9h2.2v1.4h-2.2zM409.1,806.2h1.3v1.3h-1.3zM806.9,807.1l2.6,-1.8l0.9,0.9l-2.6,1.8zM388.8,676h1.3v1.3h-1.3zM589.6,801.3h1.3v1.3h-1.3zM1296,1081.6h1.3v1.3h-1.3zM1413.4,1073.5h1.3v1.3h-1.3zM1294.3,1094.5h1.3v1.3h-1.3zM378.9,701.8h1.3v1.3h-1.3zM1031.6,922.3h1.3v1.3h-1.3zM1189.6,1081.1h1.3v1.3h-1.3zM495,806h1.5v2.6h-1.5zM1341.5,1092.4h2.2v1.4h-2.2zM438.3,803h1.3v1.3h-1.3zM1262.5,871.5h1.3v1.3h-1.3zM1117.5,1095.3h1.3v1.3h-1.3zM376.3,812h1.3v1.3h-1.3zM1088.4,1087.2h1.3v1.3h-1.3zM1270.6,1085.7h1.3v1.3h-1.3zM498.9,815.2h1.3v1.3h-1.3zM1415.8,916.1h1.3v1.3h-1.3zM387.2,721.1h1.3v1.3h-1.3zM428.8,798.3h1.3v1.3h-1.3zM388.1,669.5h1.5v2.6h-1.5zM533.1,799h1.3v1.3h-1.3zM503.1,815.9h1.3v1.3h-1.3zM877,808.1h1.3v1.3h-1.3zM914,807.2h1.3v1.3h-1.3zM612,807.3h2.2v1.4h-2.2zM1404.5,1074.7h2.2v1.4h-2.2zM975.9,797.4h1.5v2.6h-1.5zM1252.2,1096.1h1.3v1.3h-1.3zM1332.6,1084.7h1.3v1.3h-1.3zM410.9,715.2h1.3v1.3h-1.3zM1060,1098.6h2.2v1.4h-2.2zM853,813.5h1.3v1.3h-1.3zM1162.5,1098.4h2.2v1.4h-2.2zM1400.4,946h1.3v1.3h-1.3zM402.5,798.2h1.3v1.3h-1.3zM1026.8,1045.9h1.3v1.3h-1.3zM1030.7,1067.7h2.2v1.4h-2.2zM1298,872.3h1.3v1.3h-1.3zM1416.3,889.9h1.3v1.3h-1.3zM973.7,814.4h1.3v1.3h-1.3zM1149.9,1090.4h1.3v1.3h-1.3zM1015.4,945h1.3v1.3h-1.3zM1406.6,982.4l2.6,-1.8l0.9,0.9l-2.6,1.8zM876.5,800.8l2.6,-1.8l0.9,0.9l-2.6,1.8zM947.6,797.1h1.3v1.3h-1.3zM1250.8,1078.8h1.3v1.3h-1.3zM1112.3,1087.6h1.3v1.3h-1.3zM1362.6,1098.2h2.2v1.4h-2.2zM1026.8,1032.2h1.5v2.6h-1.5zM1081.5,1085.5h1.3v1.3h-1.3zM798,797.4h1.3v1.3h-1.3zM446.5,818.4h2.2v1.4h-2.2zM1017.8,941.3h1.3v1.3h-1.3zM973.8,805.7h2.2v1.4h-2.2zM1302.7,870.6h1.3v1.3h-1.3zM1083.6,1097.5h1.3v1.3h-1.3zM1067.6,878.4h1.3v1.3h-1.3zM1161.6,1098.6l2.6,-1.8l0.9,0.9l-2.6,1.8zM1060.4,1081.6h1.3v1.3h-1.3zM545.7,811.3h1.3v1.3h-1.3zM1401.7,1004.6h1.3v1.3h-1.3zM1029.5,992.4h2.2v1.4h-2.2zM1205.3,1076l2.6,-1.8l0.9,0.9l-2.6,1.8zM694.3,807.4l2.6,-1.8l0.9,0.9l-2.6,1.8zM397.5,800.3l2.6,-1.8l0.9,0.9l-2.6,1.8zM1207.6,1077.3h2.2v1.4h-2.2zM657.9,820.4l2.6,-1.8l0.9,0.9l-2.6,1.8zM695.6,805.9h1.3v1.3h-1.3zM643.3,823l2.6,-1.8l0.9,0.9l-2.6,1.8zM1036.1,852.5h1.3v1.3h-1.3zM399.1,761.8h1.3v1.3h-1.3zM1323.1,883.8h2.2v1.4h-2.2zM1215.3,1092.9h2.2v1.4h-2.2zM1030.2,959.6h2.2v1.4h-2.2zM1286.5,1076.3h2.2v1.4h-2.2zM605.2,818h1.3v1.3h-1.3zM404.5,765.7h2.2v1.4h-2.2zM670.9,808.8h1.5v2.6h-1.5zM418.1,820.1l2.6,-1.8l0.9,0.9l-2.6,1.8zM1411.4,992.5l2.6,-1.8l0.9,0.9l-2.6,1.8zM1324,1074.4h1.3v1.3h-1.3zM1410,1015.7l2.6,-1.8l0.9,0.9l-2.6,1.8zM490.5,809h1.5v2.6h-1.5zM1020.7,918.8h1.3v1.3h-1.3zM1397.4,883.6h2.2v1.4h-2.2zM817.4,801.3l2.6,-1.8l0.9,0.9l-2.6,1.8zM387.1,676.3h2.2v1.4h-2.2zM406.7,752.7h1.3v1.3h-1.3zM743,803.5h1.3v1.3h-1.3zM1067.1,1099.2h1.5v2.6h-1.5zM1035.6,965.4h2.2v1.4h-2.2zM1018.6,1016.7h1.3v1.3h-1.3zM1171.6,1096.4h1.3v1.3h-1.3zM1404.8,1065.3h1.3v1.3h-1.3zM1327,1080h1.3v1.3h-1.3zM378.6,793.7h1.3v1.3h-1.3zM1184,1078.1h1.3v1.3h-1.3zM576.7,823.2h1.5v2.6h-1.5zM1041.8,1097.3h1.3v1.3h-1.3zM1369.3,870.9l2.6,-1.8l0.9,0.9l-2.6,1.8zM1308,1083h1.3v1.3h-1.3zM603.6,807.1h2.2v1.4h-2.2zM1034.1,834.7h1.3v1.3h-1.3zM372.9,754.2h2.2v1.4h-2.2zM740,799.5h1.3v1.3h-1.3zM373.6,704.8h1.3v1.3h-1.3zM617.6,807.8h1.3v1.3h-1.3zM1292.7,1089.4h1.5v2.6h-1.5zM374.8,802.3h2.2v1.4h-2.2zM1407.9,976.7h1.3v1.3h-1.3zM1019,946.1h2.2v1.4h-2.2zM1284.1,871.7h1.3v1.3h-1.3zM402.3,823.4h2.2v1.4h-2.2zM792.4,816.7l2.6,-1.8l0.9,0.9l-2.6,1.8zM1274.3,870.8h1.3v1.3h-1.3zM861.8,815.1h1.3v1.3h-1.3zM1138.7,875.5h1.3v1.3h-1.3zM513.3,799.3h1.3v1.3h-1.3zM397.6,810.4h1.3v1.3h-1.3zM566,815.9h1.3v1.3h-1.3zM1034.9,884.8h2.2v1.4h-2.2zM1201.1,1085.9h2.2v1.4h-2.2zM1336.9,874.6h2.2v1.4h-2.2zM518.5,803.3h1.3v1.3h-1.3zM404.2,743.2l2.6,-1.8l0.9,0.9l-2.6,1.8zM1051,1099.1h1.3v1.3h-1.3zM657.8,810.7h2.2v1.4h-2.2zM1023,814.8h2.2v1.4h-2.2zM384.3,693.7h1.3v1.3h-1.3zM472.1,815.9h1.5v2.6h-1.5zM607.5,797.1h1.3v1.3h-1.3zM410.8,778.4h1.3v1.3h-1.3zM1152.1,1095.3h1.3v1.3h-1.3zM1029.4,836.7h1.3v1.3h-1.3zM1030.7,901l2.6,-1.8l0.9,0.9l-2.6,1.8zM1288.7,1088.1h1.3v1.3h-1.3zM394.5,698.4h1.3v1.3h-1.3zM407.5,776h1.3v1.3h-1.3zM438.2,812.9h2.2v1.4h-2.2zM960.6,801h1.3v1.3h-1.3zM874,810.2h1.3v1.3h-1.3zM967.3,796.6l2.6,-1.8l0.9,0.9l-2.6,1.8zM893.4,798.4h1.3v1.3h-1.3zM1039.4,881.4h1.3v1.3h-1.3zM1216.4,1085.1h1.3v1.3h-1.3zM478,821.5h1.3v1.3h-1.3zM765.8,817.2h1.3v1.3h-1.3zM624.1,818l2.6,-1.8l0.9,0.9l-2.6,1.8zM1226.7,1094.8h1.3v1.3h-1.3zM1229.9,1074.6l2.6,-1.8l0.9,0.9l-2.6,1.8zM1157.3,1087.2h1.3v1.3h-1.3zM1016.2,890h1.3v1.3h-1.3zM1071.9,1094.8h2.2v1.4h-2.2zM873.5,808.2h1.3v1.3h-1.3zM538.4,801.4h2.2v1.4h-2.2zM1030.4,901.9h1.5v2.6h-1.5zM1127.7,1080.6h1.3v1.3h-1.3zM1200,1091.4h1.3v1.3h-1.3zM408.1,716.9h1.3v1.3h-1.3zM1036.3,884.9h1.3v1.3h-1.3zM388.4,756.1h2.2v1.4h-2.2zM733.2,805.8h2.2v1.4h-2.2zM1028.1,1000.5h1.3v1.3h-1.3zM1031.2,1007.6h1.3v1.3h-1.3zM876.4,805.5h1.3v1.3h-1.3zM832.3,820.8h2.2v1.4h-2.2zM1062,882h2.2v1.4h-2.2zM1032.1,1020.2h1.3v1.3h-1.3zM1041.3,1078.5h1.3v1.3h-1.3zM772,818.2l2.6,-1.8l0.9,0.9l-2.6,1.8zM1254.6,1075.8h1.3v1.3h-1.3zM1258.2,1081.6l2.6,-1.8l0.9,0.9l-2.6,1.8zM1412.4,1093.7h2.2v1.4h-2.2zM1159.9,1083.8h1.5v2.6h-1.5zM398.9,792.3h1.3v1.3h-1.3zM400,734.1h1.3v1.3h-1.3zM687.3,805l2.6,-1.8l0.9,0.9l-2.6,1.8zM1373.6,1080.6h1.3v1.3h-1.3zM1026.3,987.3l2.6,-1.8l0.9,0.9l-2.6,1.8zM1262.3,1076h2.2v1.4h-2.2zM692.6,802.5h1.3v1.3h-1.3zM1356,1083.2h1.3v1.3h-1.3zM1032.6,814.6h1.3v1.3h-1.3zM404.7,742.6h1.3v1.3h-1.3zM828.6,807.5l2.6,-1.8l0.9,0.9l-2.6,1.8zM913,810l2.6,-1.8l0.9,0.9l-2.6,1.8zM517.7,797h1.3v1.3h-1.3zM1258.5,1098.2h1.3v1.3h-1.3zM1141.1,877.6h1.3v1.3h-1.3zM1021.5,1016.7h1.3v1.3h-1.3zM405,784.2h1.3v1.3h-1.3zM1380.3,1075.9h1.3v1.3h-1.3zM537.3,812h1.3v1.3h-1.3zM721,798.1h1.3v1.3h-1.3zM1043.8,873.1h2.2v1.4h-2.2zM1409,968.4l2.6,-1.8l0.9,0.9l-2.6,1.8zM518.4,819.5h1.3v1.3h-1.3zM1279.7,1094.7h1.3v1.3h-1.3zM1123.6,1081.5h1.3v1.3h-1.3zM893.5,808.2h1.3v1.3h-1.3zM400,789.1h1.3v1.3h-1.3zM1011,805.7h1.3v1.3h-1.3zM1190.5,1080.3l2.6,-1.8l0.9,0.9l-2.6,1.8zM1278.3,874h2.2v1.4h-2.2zM1014.8,886.7h1.5v2.6h-1.5zM402.6,819.6h1.3v1.3h-1.3zM1095.1,1097.5h1.3v1.3h-1.3zM987.2,813.4h1.3v1.3h-1.3zM924.6,796.8h1.3v1.3h-1.3zM1326.6,1077.5h2.2v1.4h-2.2zM1054.6,1084.6h1.5v2.6h-1.5zM407.2,786.6h2.2v1.4h-2.2zM951.2,797h1.3v1.3h-1.3zM1154.2,1075.9h1.3v1.3h-1.3zM1407.5,1054.2h1.3v1.3h-1.3zM433.9,815.5h1.3v1.3h-1.3zM722,820.7h1.3v1.3h-1.3zM1225.4,1099.8h1.5v2.6h-1.5zM438,803.3h1.3v1.3h-1.3zM1047.2,875.3h1.3v1.3h-1.3zM1020.6,981.4h1.3v1.3h-1.3zM1202.8,1074.2h2.2v1.4h-2.2zM1298.1,881l2.6,-1.8l0.9,0.9l-2.6,1.8zM883.4,814.8h1.5v2.6h-1.5zM409.5,741.9h1.3v1.3h-1.3zM1411,1092.1h1.3v1.3h-1.3zM1204.3,1089.9h1.3v1.3h-1.3zM404,704.2h2.2v1.4h-2.2zM396.9,666.2h1.3v1.3h-1.3zM1077.3,1078.8l2.6,-1.8l0.9,0.9l-2.6,1.8zM383.6,810.9h1.3v1.3h-1.3zM1307.3,881.4h1.5v2.6h-1.5zM918.4,811.3h1.3v1.3h-1.3zM548.3,809.2h1.3v1.3h-1.3zM735,818.1l2.6,-1.8l0.9,0.9l-2.6,1.8zM389,740.3h2.2v1.4h-2.2zM385.5,754.3h1.3v1.3h-1.3zM1081.5,1092.5h1.3v1.3h-1.3zM958.9,808h1.5v2.6h-1.5zM823,810.2h2.2v1.4h-2.2zM789.3,815.5h1.3v1.3h-1.3zM1178.7,1084.2l2.6,-1.8l0.9,0.9l-2.6,1.8zM1014.5,949.4h1.3v1.3h-1.3zM407,670.9h1.5v2.6h-1.5zM674.2,810.2h1.5v2.6h-1.5zM1193.9,1095.6h1.3v1.3h-1.3zM659.4,814h1.3v1.3h-1.3zM801.4,807.8h1.3v1.3h-1.3zM1017.8,1087.1h1.3v1.3h-1.3zM1124.7,1083.6h2.2v1.4h-2.2zM554.2,822.9h1.3v1.3h-1.3zM1027.3,1070.1h1.3v1.3h-1.3zM1037.3,903.2h1.3v1.3h-1.3zM1385.3,1096.3h1.5v2.6h-1.5zM402.7,666l2.6,-1.8l0.9,0.9l-2.6,1.8zM1227.7,1097.5h1.3v1.3h-1.3zM1208.1,1076.7h1.5v2.6h-1.5zM1028,827.6h1.3v1.3h-1.3zM1401.8,1027.4h1.3v1.3h-1.3zM799.8,811.8h2.2v1.4h-2.2zM1365.7,878.2h1.3v1.3h-1.3zM749.2,803.3h1.3v1.3h-1.3zM1260.5,1089.8h2.2v1.4h-2.2zM1015.2,827.2h1.3v1.3h-1.3zM1018.1,997.7h1.3v1.3h-1.3zM1223.3,1091.4h1.5v2.6h-1.5zM1022.8,1015.4h1.3v1.3h-1.3zM1090.1,1073.9h1.3v1.3h-1.3zM402.6,662.2h1.3v1.3h-1.3zM961.5,813.5h1.3v1.3h-1.3zM498.5,812h2.2v1.4h-2.2zM973.3,816.8h1.3v1.3h-1.3zM403.1,789.1h2.2v1.4h-2.2zM1019,957.3h1.3v1.3h-1.3zM1225.4,1080.8h2.2v1.4h-2.2zM1072.2,1073.7h1.3v1.3h-1.3zM1129.6,1076h1.3v1.3h-1.3zM1263.6,1098.8h1.3v1.3h-1.3zM689.8,810.6h1.3v1.3h-1.3zM1264.3,880h2.2v1.4h-2.2zM427.7,809.7h1.3v1.3h-1.3zM1126.1,872.5h1.3v1.3h-1.3zM783.2,817.8h1.3v1.3h-1.3zM1032.1,910h1.3v1.3h-1.3zM916.5,811.7h1.5v2.6h-1.5zM422.8,805.4h1.3v1.3h-1.3zM1016.6,998.6h1.3v1.3h-1.3zM1349.9,877.2h2.2v1.4h-2.2zM529.6,801.4h2.2v1.4h-2.2zM1031.3,918.6h1.3v1.3h-1.3zM1413.6,1088h1.3v1.3h-1.3zM1399.3,943.5h1.3v1.3h-1.3zM1217.9,1073.9h1.5v2.6h-1.5zM1019.7,1020.4h1.3v1.3h-1.3zM459.9,809.4h1.3v1.3h-1.3zM1040.7,1083.2h1.5v2.6h-1.5zM692.5,816.6h1.3v1.3h-1.3zM1055.8,1087.6h1.3v1.3h-1.3zM1408.9,1090.1h2.2v1.4h-2.2zM374.4,797.1h1.3v1.3h-1.3zM1044.2,1094.4h1.3v1.3h-1.3zM1035.1,823.5h1.5v2.6h-1.5zM1323,1085.9h1.5v2.6h-1.5zM1281.3,873.8h1.3v1.3h-1.3zM378,793.3h1.5v2.6h-1.5zM1076.2,1090.9h2.2v1.4h-2.2zM1215.7,1092h1.3v1.3h-1.3zM684.8,800.1h1.5v2.6h-1.5zM1236.4,1091.2h1.3v1.3h-1.3zM588.8,802.6l2.6,-1.8l0.9,0.9l-2.6,1.8zM397.2,723.2h1.3v1.3h-1.3zM795,804.8h1.3v1.3h-1.3z" fill="#222" stroke="none"/>
<line x1="367.2" y1="88.8" x2="571" y2="88.8" stroke-width="5.8"/>
<line x1="370.2" y1="86" x2="370.2" y2="291" stroke-width="6"/>
<line x1="570" y1="85.2" x2="969" y2="85.2" stroke-width="2.4"/>
<line x1="371" y1="290.1" x2="457.7" y2="290.1" stroke-width="2.6"/>
<line x1="373" y1="103.5" x2="434" y2="103.5" stroke-width="2.7"/>
<line x1="507" y1="103.5" x2="570" y2="103.5" stroke-width="2.7"/>
<text x="440.6" y="111.5" font-size="22.5" font-family='"Liberation Sans", Arial, sans-serif' textLength="60.8" lengthAdjust="spacingAndGlyphs" fill="#000" stroke="#000" stroke-width="0.55">1.75m</text>
<line x1="386.7" y1="91" x2="386.7" y2="152" stroke-width="2.7"/>
<line x1="386.7" y1="228" x2="386.7" y2="289" stroke-width="2.7"/>
<text x="395.5" y="223.5" font-size="22.5" font-family='"Liberation Sans", Arial, sans-serif' textLength="62.9" lengthAdjust="spacingAndGlyphs" transform="rotate(-90 395.5 223.5)" fill="#000" stroke="#000" stroke-width="0.55">1.76m</text>
<circle cx="439.5" cy="183" r="32" stroke-width="2.6"/>
<circle cx="813.1" cy="246" r="32" stroke-width="2.6"/>
<circle cx="689.5" cy="623.4" r="32" stroke-width="2.6"/>
<circle cx="1207.5" cy="811.2" r="31.5" stroke-width="2.6"/>
<circle cx="1208.3" cy="998.5" r="31.5" stroke-width="2.6"/>
<path d="M570,85 L570,174.5 L603,174.5" stroke-width="2.6" fill="none"/>
<path d="M603,174.5 L603,120 L943.5,120" stroke-width="2.6" fill="none"/>
<line x1="603" y1="173.2" x2="847" y2="173.2" stroke-width="2.4"/>
<line x1="923" y1="173.2" x2="943.5" y2="173.2" stroke-width="2.4"/>
<text x="852.6" y="181.2" font-size="22.5" font-family='"Liberation Sans", Arial, sans-serif' textLength="64" lengthAdjust="spacingAndGlyphs" fill="#000" stroke="#000" stroke-width="0.55">3.00m</text>
<line x1="680" y1="120" x2="680" y2="178" stroke-width="2.7"/>
<line x1="680" y1="247" x2="680" y2="302" stroke-width="2.7"/>
<text x="689" y="240.6" font-size="22.5" font-family='"Liberation Sans", Arial, sans-serif' textLength="57.6" lengthAdjust="spacingAndGlyphs" transform="rotate(-90 689 240.6)" fill="#000" stroke="#000" stroke-width="0.55">1.60m</text>
<line x1="604" y1="143.6" x2="643" y2="143.6" stroke-width="2.7"/>
<line x1="715" y1="143.6" x2="757.7" y2="143.6" stroke-width="2.7"/>
<text x="648.6" y="151.6" font-size="22.5" font-family='"Liberation Sans", Arial, sans-serif' textLength="61.1" lengthAdjust="spacingAndGlyphs" fill="#000" stroke="#000" stroke-width="0.55">1.36m</text>
<line x1="756.6" y1="85" x2="756.6" y2="120" stroke-width="2.6"/>
<line x1="848.3" y1="85" x2="848.3" y2="120" stroke-width="2.6"/>
<line x1="756.6" y1="96.3" x2="848.3" y2="96.3" stroke-width="2.8"/>
<line x1="756.6" y1="108" x2="848.3" y2="108" stroke-width="2.8"/>
<line x1="767.3" y1="146.3" x2="837.7" y2="146.3" stroke-width="2.4"/>
<text x="778.5" y="143.5" font-size="24.5" font-family='"Liberation Sans", Arial, sans-serif' textLength="48" lengthAdjust="spacingAndGlyphs" fill="#000" stroke="#000" stroke-width="0.55">0.80</text>
<text x="778.5" y="166.9" font-size="24.5" font-family='"Liberation Sans", Arial, sans-serif' textLength="48" lengthAdjust="spacingAndGlyphs" fill="#000" stroke="#000" stroke-width="0.55">1.40</text>
<path d="M968.2,84 L971,631.5 L1202.3,631.5 L1202.3,726 L1418.1,726 L1418.1,770.3 L1392.3,770.3 L1392.3,752.3 L1177.5,752.3 L1177.5,657.2 L958.1,657.2 L958.1,667.8 L945.4,667.8" stroke-width="2.6" fill="none"/>
<path d="M943.2,120 L944.3,396.1 L945.4,668" stroke-width="2.8" fill="none"/>
<line x1="924" y1="120" x2="924.6" y2="212" stroke-width="2.7"/>
<line x1="925" y1="286.5" x2="925.2" y2="396" stroke-width="2.7"/>
<text x="933.5" y="281" font-size="22.5" font-family='"Liberation Sans", Arial, sans-serif' textLength="64" lengthAdjust="spacingAndGlyphs" transform="rotate(-90 933.5 281)" fill="#000" stroke="#000" stroke-width="0.55">2.30m</text>
<line x1="925.2" y1="396" x2="926" y2="494.4" stroke-width="2.7"/>
<line x1="926.2" y1="571" x2="926.5" y2="668" stroke-width="2.7"/>
<text x="935" y="564.8" font-size="22.5" font-family='"Liberation Sans", Arial, sans-serif' textLength="63" lengthAdjust="spacingAndGlyphs" transform="rotate(-90 935 564.8)" fill="#000" stroke="#000" stroke-width="0.55">2.41m</text>
<path d="M944.3,382.2 L796.7,382.2 L796.7,396.1 L944.3,396.1" stroke-width="2.6" fill="none"/>
<line x1="795" y1="367.3" x2="834.5" y2="367.3" stroke-width="2.7"/>
<line x1="906" y1="367.3" x2="944" y2="367.3" stroke-width="2.7"/>
<text x="838.7" y="375.3" font-size="22.5" font-family='"Liberation Sans", Arial, sans-serif' textLength="61.9" lengthAdjust="spacingAndGlyphs" fill="#000" stroke="#000" stroke-width="0.55">1.30m</text>
<line x1="796" y1="410" x2="834.5" y2="410" stroke-width="2.7"/>
<line x1="906" y1="410" x2="944.6" y2="410" stroke-width="2.7"/>
<text x="838.7" y="418" font-size="22.5" font-family='"Liberation Sans", Arial, sans-serif' textLength="61.9" lengthAdjust="spacingAndGlyphs" fill="#000" stroke="#000" stroke-width="0.55">1.30m</text>
<line x1="838.7" y1="396" x2="839.2" y2="558.4" stroke-width="2.7"/>
<line x1="839.4" y1="635" x2="839.4" y2="796.3" stroke-width="2.7"/>
<text x="848.5" y="630" font-size="22.5" font-family='"Liberation Sans", Arial, sans-serif' textLength="63" lengthAdjust="spacingAndGlyphs" transform="rotate(-90 848.5 630)" fill="#000" stroke="#000" stroke-width="0.55">3.56m</text>
<path d="M570.7,273 L570.7,290.1 L551.5,290.1 L551.5,316.1 L585.7,316.1 L585.7,396.7 L695.9,396.7 L695.9,382.2 L674.5,382.2 L674.5,302.3 L604.9,302.3 L604.9,273 Z" stroke-width="2.6" fill="none"/>
<line x1="570.7" y1="272.6" x2="667.8" y2="272.6" stroke-width="3.4"/>
<path d="M570.7,175.5 A97,97 0 0 1 667.8,272.5" stroke-width="2.6" fill="none"/>
<line x1="563.4" y1="223.2" x2="631.7" y2="223.2" stroke-width="2.4"/>
<text x="572.5" y="220.4" font-size="24.5" font-family='"Liberation Sans", Arial, sans-serif' textLength="50" lengthAdjust="spacingAndGlyphs" fill="#000" stroke="#000" stroke-width="0.55">0.88</text>
<text x="572.5" y="243.8" font-size="24.5" font-family='"Liberation Sans", Arial, sans-serif' textLength="50" lengthAdjust="spacingAndGlyphs" fill="#000" stroke="#000" stroke-width="0.55">2.20</text>
<line x1="592" y1="289.5" x2="604.9" y2="289.5" stroke-width="2.7"/>
<line x1="674" y1="289.5" x2="686" y2="289.5" stroke-width="2.7"/>
<text x="608" y="297.5" font-size="22.5" font-family='"Liberation Sans", Arial, sans-serif' textLength="62" lengthAdjust="spacingAndGlyphs" fill="#000" stroke="#000" stroke-width="0.55">0.62m</text>
<line x1="584.6" y1="412" x2="602.7" y2="412" stroke-width="2.7"/>
<line x1="677.4" y1="412" x2="695.5" y2="412" stroke-width="2.7"/>
<text x="608" y="420" font-size="22.5" font-family='"Liberation Sans", Arial, sans-serif' textLength="62" lengthAdjust="spacingAndGlyphs" fill="#000" stroke="#000" stroke-width="0.55">0.96m</text>
<line x1="551.5" y1="290" x2="551.5" y2="385" stroke-width="2.6"/>
<path d="M457.7,290.1 A94,94 0 0 0 551.5,384.6" stroke-width="2.6" fill="none"/>
<line x1="470.5" y1="299.5" x2="540.9" y2="299.5" stroke-width="2.4"/>
<text x="480.7" y="296.7" font-size="24.5" font-family='"Liberation Sans", Arial, sans-serif' textLength="50" lengthAdjust="spacingAndGlyphs" fill="#000" stroke="#000" stroke-width="0.55">0.85</text>
<text x="480.7" y="320.1" font-size="24.5" font-family='"Liberation Sans", Arial, sans-serif' textLength="50" lengthAdjust="spacingAndGlyphs" fill="#000" stroke="#000" stroke-width="0.55">2.10</text>
<line x1="695.9" y1="293.7" x2="695.9" y2="396.5" stroke-width="2.6"/>
<path d="M695.9,293.7 A101,101 0 0 1 796.7,386" stroke-width="2.6" fill="none"/>
<line x1="718.2" y1="382.2" x2="788.6" y2="382.2" stroke-width="2.4"/>
<text x="731" y="379.4" font-size="24.5" font-family='"Liberation Sans", Arial, sans-serif' textLength="47" lengthAdjust="spacingAndGlyphs" fill="#000" stroke="#000" stroke-width="0.55">0.91</text>
<text x="731" y="402.8" font-size="24.5" font-family='"Liberation Sans", Arial, sans-serif' textLength="47" lengthAdjust="spacingAndGlyphs" fill="#000" stroke="#000" stroke-width="0.55">2.10</text>
<path d="M371.3,290 L372.4,825 L1014.5,821" stroke-width="2.8" fill="none"/>
<path d="M457.7,290.1 L457.7,316.1 L409.7,316.1 L411.8,797.2 L946,796.3" stroke-width="2.6" fill="none"/>
<line x1="372" y1="473" x2="411" y2="473" stroke-width="2.4"/>
<line x1="372.2" y1="653.3" x2="411.6" y2="653.3" stroke-width="2.4"/>
<line x1="385.2" y1="473" x2="385.4" y2="653.3" stroke-width="2.6"/>
<line x1="398" y1="473" x2="398.3" y2="653.3" stroke-width="2.6"/>
<line x1="430" y1="316" x2="430" y2="356.6" stroke-width="2.7"/>
<line x1="430" y1="431" x2="430" y2="474" stroke-width="2.7"/>
<text x="439" y="422.7" font-size="22.5" font-family='"Liberation Sans", Arial, sans-serif' textLength="57.7" lengthAdjust="spacingAndGlyphs" transform="rotate(-90 439 422.7)" fill="#000" stroke="#000" stroke-width="0.55">1.37m</text>
<line x1="463" y1="316" x2="465" y2="483.7" stroke-width="2.7"/>
<line x1="465.2" y1="559.4" x2="465.3" y2="797" stroke-width="2.7"/>
<text x="474" y="553" font-size="22.5" font-family='"Liberation Sans", Arial, sans-serif' textLength="63" lengthAdjust="spacingAndGlyphs" transform="rotate(-90 474 553)" fill="#000" stroke="#000" stroke-width="0.55">4.27m</text>
<line x1="432.3" y1="533.8" x2="432.3" y2="601" stroke-width="2.4"/>
<text x="432" y="589.3" font-size="23" font-family='"Liberation Sans", Arial, sans-serif' textLength="44" lengthAdjust="spacingAndGlyphs" transform="rotate(-90 432 589.3)" fill="#000" stroke="#000" stroke-width="0.55">1.50</text>
<text x="451" y="589.3" font-size="23" font-family='"Liberation Sans", Arial, sans-serif' textLength="44" lengthAdjust="spacingAndGlyphs" transform="rotate(-90 451 589.3)" fill="#000" stroke="#000" stroke-width="0.55">1.40</text>
<line x1="411.8" y1="779.1" x2="640" y2="779.1" stroke-width="2.7"/>
<line x1="715" y1="779" x2="958.5" y2="777" stroke-width="2.7"/>
<text x="647.5" y="787" font-size="22.5" font-family='"Liberation Sans", Arial, sans-serif' textLength="61.1" lengthAdjust="spacingAndGlyphs" fill="#000" stroke="#000" stroke-width="0.55">4.73m</text>
<line x1="945.6" y1="764.7" x2="945.6" y2="796.4" stroke-width="2.6"/>
<line x1="958.9" y1="764.7" x2="958.9" y2="796.4" stroke-width="2.6"/>
<line x1="862" y1="764.7" x2="959.8" y2="764.7" stroke-width="3.4"/>
<path d="M862.2,764.7 A96.4,96.4 0 0 1 958.6,668.3" stroke-width="2.6" fill="none"/>
<line x1="905.9" y1="709.1" x2="974.2" y2="709.1" stroke-width="2.4"/>
<text x="915" y="706.3" font-size="24.5" font-family='"Liberation Sans", Arial, sans-serif' textLength="50" lengthAdjust="spacingAndGlyphs" fill="#000" stroke="#000" stroke-width="0.55">0.88</text>
<text x="915" y="729.7" font-size="24.5" font-family='"Liberation Sans", Arial, sans-serif' textLength="50" lengthAdjust="spacingAndGlyphs" fill="#000" stroke="#000" stroke-width="0.55">2.10</text>
<path d="M958.9,795.1 L1039.2,795.1 L1039.2,869.8 L1158,869.8" stroke-width="2.6" fill="none"/>
<path d="M1014.5,820 L1014.3,1099.2 L1418.1,1100.5 L1418.1,869.3" stroke-width="2.8" fill="none"/>
<line x1="958.1" y1="671.4" x2="1031.7" y2="671.4" stroke-width="2.7"/>
<line x1="1103" y1="671.4" x2="1177.5" y2="671.4" stroke-width="2.7"/>
<text x="1037" y="679.4" font-size="22.5" font-family='"Liberation Sans", Arial, sans-serif' textLength="60.8" lengthAdjust="spacingAndGlyphs" fill="#000" stroke="#000" stroke-width="0.55">1.96m</text>
<line x1="1133" y1="657.2" x2="1133" y2="729" stroke-width="2.7"/>
<line x1="1133" y1="799.4" x2="1133" y2="869.8" stroke-width="2.7"/>
<text x="1142" y="795" font-size="22.5" font-family='"Liberation Sans", Arial, sans-serif' textLength="60.6" lengthAdjust="spacingAndGlyphs" transform="rotate(-90 1142 795)" fill="#000" stroke="#000" stroke-width="0.55">1.91m</text>
<line x1="1163.9" y1="657.2" x2="1163.9" y2="671.4" stroke-width="2.7"/>
<line x1="1163.9" y1="741.8" x2="1163.9" y2="753.6" stroke-width="2.7"/>
<text x="1173" y="737.6" font-size="22.5" font-family='"Liberation Sans", Arial, sans-serif' textLength="63" lengthAdjust="spacingAndGlyphs" transform="rotate(-90 1173 737.6)" fill="#000" stroke="#000" stroke-width="0.55">0.85m</text>
<line x1="1176.4" y1="765" x2="1247.9" y2="765" stroke-width="2.7"/>
<line x1="1320.8" y1="765" x2="1392.3" y2="765" stroke-width="2.7"/>
<text x="1253.5" y="773" font-size="22.5" font-family='"Liberation Sans", Arial, sans-serif' textLength="61.7" lengthAdjust="spacingAndGlyphs" fill="#000" stroke="#000" stroke-width="0.55">1.89m</text>
<text x="967.7" y="785.5" font-size="22.5" font-family='"Liberation Sans", Arial, sans-serif' textLength="60.8" lengthAdjust="spacingAndGlyphs" fill="#000" stroke="#000" stroke-width="0.55">0.72m</text>
<line x1="1037" y1="777.2" x2="1050.9" y2="777.2" stroke-width="2.7"/>
<line x1="1054" y1="784.5" x2="1054" y2="797.3" stroke-width="2.7"/>
<text x="1063" y="865.5" font-size="22.5" font-family='"Liberation Sans", Arial, sans-serif' textLength="62.9" lengthAdjust="spacingAndGlyphs" transform="rotate(-90 1063 865.5)" fill="#000" stroke="#000" stroke-width="0.55">0.67m</text>
<line x1="1039.2" y1="849.5" x2="1063.7" y2="849.5" stroke-width="2.7"/>
<line x1="1136.2" y1="849.5" x2="1158.6" y2="849.5" stroke-width="2.7"/>
<text x="1068" y="857.5" font-size="22.5" font-family='"Liberation Sans", Arial, sans-serif' textLength="60.7" lengthAdjust="spacingAndGlyphs" fill="#000" stroke="#000" stroke-width="0.55">1.06m</text>
<path d="M1317.2,868.4 A101,101 0 0 1 1392.3,770.8" stroke-width="2.6" fill="none"/>
<line x1="1358.7" y1="810.9" x2="1428.8" y2="810.9" stroke-width="2.4"/>
<text x="1369.2" y="808.1" font-size="24.5" font-family='"Liberation Sans", Arial, sans-serif' textLength="49" lengthAdjust="spacingAndGlyphs" fill="#000" stroke="#000" stroke-width="0.55">0.90</text>
<text x="1369.2" y="831.5" font-size="24.5" font-family='"Liberation Sans", Arial, sans-serif' textLength="49" lengthAdjust="spacingAndGlyphs" fill="#000" stroke="#000" stroke-width="0.55">2.10</text>
<path d="M1539.5,803.4 L1508.7,817.9 L1539.5,832.8" stroke-width="2.2" fill="none"/>
<line x1="1516" y1="815.2" x2="1564.7" y2="815.2" stroke-width="1.8"/>
<line x1="1516" y1="820.4" x2="1564.7" y2="820.4" stroke-width="1.8"/>
<line x1="1258.5" y1="869.6" x2="1419.3" y2="869.6" stroke-width="3.4"/>
<line x1="1036.3" y1="884" x2="1159" y2="884" stroke-width="3.4"/>
<line x1="1260" y1="884" x2="1397.9" y2="884" stroke-width="2.6"/>
<path d="M1037.5,884 L1037.5,1073.6 L1397.9,1073.9 L1397.9,884" stroke-width="2.6" fill="none"/>
<line x1="1260.3" y1="868" x2="1260.3" y2="973" stroke-width="2.8"/>
<line x1="1259.6" y1="868" x2="1259.6" y2="885" stroke-width="4.2"/>
<path d="M1158,869.8 C1159.5,880 1160.5,890 1161.5,899 C1170,940 1215,972 1260.3,973" stroke-width="2.6" fill="none"/>
<line x1="1170.3" y1="884" x2="1239.6" y2="884" stroke-width="2.4"/>
<text x="1180.3" y="881.2" font-size="24.5" font-family='"Liberation Sans", Arial, sans-serif' textLength="50" lengthAdjust="spacingAndGlyphs" fill="#000" stroke="#000" stroke-width="0.55">0.92</text>
<text x="1180.3" y="904.6" font-size="24.5" font-family='"Liberation Sans", Arial, sans-serif' textLength="50" lengthAdjust="spacingAndGlyphs" fill="#000" stroke="#000" stroke-width="0.55">2.10</text>
<line x1="1034" y1="898.5" x2="1061" y2="898.5" stroke-width="2.7"/>
<line x1="1132.5" y1="898.5" x2="1160.9" y2="898.5" stroke-width="2.7"/>
<text x="1066.7" y="906.5" font-size="22.5" font-family='"Liberation Sans", Arial, sans-serif' textLength="60.4" lengthAdjust="spacingAndGlyphs" fill="#000" stroke="#000" stroke-width="0.55">1.08m</text>
<line x1="1260.5" y1="897.3" x2="1292.8" y2="897.3" stroke-width="2.7"/>
<line x1="1365.7" y1="897.3" x2="1397.9" y2="897.3" stroke-width="2.7"/>
<text x="1298.4" y="905.3" font-size="22.5" font-family='"Liberation Sans", Arial, sans-serif' textLength="60.3" lengthAdjust="spacingAndGlyphs" fill="#000" stroke="#000" stroke-width="0.55">1.20m</text>
<line x1="1054.5" y1="869.6" x2="1054.5" y2="941.5" stroke-width="2.7"/>
<line x1="1054.5" y1="1015.5" x2="1054.5" y2="1073.6" stroke-width="2.7"/>
<text x="1063.5" y="1010" font-size="22.5" font-family='"Liberation Sans", Arial, sans-serif' textLength="61.2" lengthAdjust="spacingAndGlyphs" transform="rotate(-90 1063.5 1010)" fill="#000" stroke="#000" stroke-width="0.55">1.67m</text>
<line x1="1383.9" y1="884" x2="1383.9" y2="942.1" stroke-width="2.7"/>
<line x1="1383.9" y1="1016.4" x2="1383.9" y2="1073.9" stroke-width="2.7"/>
<text x="1393" y="1010.8" font-size="22.5" font-family='"Liberation Sans", Arial, sans-serif' textLength="63.1" lengthAdjust="spacingAndGlyphs" transform="rotate(-90 1393 1010.8)" fill="#000" stroke="#000" stroke-width="0.55">1.67m</text>
<line x1="1037.5" y1="1058.6" x2="1178.2" y2="1058.6" stroke-width="2.7"/>
<line x1="1253.5" y1="1059" x2="1397.9" y2="1059" stroke-width="2.7"/>
<text x="1184.6" y="1066.8" font-size="22.5" font-family='"Liberation Sans", Arial, sans-serif' textLength="63.2" lengthAdjust="spacingAndGlyphs" fill="#000" stroke="#000" stroke-width="0.55">3.20m</text>
</g>
<g fill="#000" stroke="none">
<text x="439.5" y="198" font-size="54" font-family='"Liberation Serif", "Times New Roman", serif' textLength="48" lengthAdjust="spacingAndGlyphs" text-anchor="middle" fill="#000" stroke="#000" stroke-width="0.5">52</text>
<text x="813" y="262" font-size="51" font-family='"Liberation Serif", "Times New Roman", serif' text-anchor="middle" font-style="italic" font-weight="bold" fill="#000" stroke="none">6</text>
<text x="690" y="638" font-size="50" font-family='"Liberation Serif", "Times New Roman", serif' text-anchor="middle" font-style="italic" font-weight="bold" fill="#000" stroke="none">7</text>
<text x="1207" y="827" font-size="49" font-family='"Liberation Serif", "Times New Roman", serif' text-anchor="middle" font-style="italic" font-weight="bold" fill="#000" stroke="none">8</text>
<text x="1208" y="1011" font-size="49" font-family='"Liberation Serif", "Times New Roman", serif' text-anchor="middle" font-style="italic" font-weight="bold" fill="#000" stroke="none">9</text>
<text x="543" y="565.5" font-size="40" font-family='"Liberation Serif", "Times New Roman", serif' textLength="272" lengthAdjust="spacingAndGlyphs" font-style="italic" fill="#000" stroke="none">Apartament 98</text>
</g>
<g fill="#000" stroke="none">
<text x="529.3" y="1337.5" font-size="40" font-family='"Liberation Serif", "Times New Roman", serif' textLength="273" lengthAdjust="spacingAndGlyphs" font-style="italic" fill="#000" stroke="none">Apartament 98</text>
<text x="540.2" y="1417.5" font-size="39" font-family='"Liberation Serif", "Times New Roman", serif' textLength="121.9" lengthAdjust="spacingAndGlyphs" font-style="italic" font-weight="bold" fill="#000" stroke="none">Numar</text>
<text x="532.9" y="1463.8" font-size="39" font-family='"Liberation Serif", "Times New Roman", serif' textLength="146.3" lengthAdjust="spacingAndGlyphs" font-style="italic" font-weight="bold" fill="#000" stroke="none">incapere</text>
<text x="775.5" y="1415" font-size="39" font-family='"Liberation Serif", "Times New Roman", serif' textLength="175.5" lengthAdjust="spacingAndGlyphs" font-style="italic" font-weight="bold" fill="#000" stroke="none">Denumire</text>
<text x="775.5" y="1460.2" font-size="39" font-family='"Liberation Serif", "Times New Roman", serif' textLength="149" lengthAdjust="spacingAndGlyphs" font-style="italic" font-weight="bold" fill="#000" stroke="none">incapere</text>
<text x="1082.3" y="1414" font-size="39" font-family='"Liberation Serif", "Times New Roman", serif' textLength="170.7" lengthAdjust="spacingAndGlyphs" font-style="italic" font-weight="bold" fill="#000" stroke="none">Suprafata</text>
<text x="1084.8" y="1455.3" font-size="39" font-family='"Liberation Serif", "Times New Roman", serif' textLength="167.2" lengthAdjust="spacingAndGlyphs" font-style="italic" font-weight="bold" fill="#000" stroke="none">utila (mp)</text>
<text x="611" y="1515.5" font-size="43" font-family='"Liberation Serif", "Times New Roman", serif' text-anchor="middle" font-style="italic" fill="#000" stroke="#000" stroke-width="0.35">6</text>
<text x="696.5" y="1511" font-size="40" font-family='"Liberation Serif", "Times New Roman", serif' textLength="177.7" lengthAdjust="spacingAndGlyphs" font-style="italic" fill="#000" stroke="#000" stroke-width="0.75">Bucatarie</text>
<text x="1160.3" y="1512" font-size="43" font-family='"Liberation Serif", "Times New Roman", serif' textLength="69.7" lengthAdjust="spacingAndGlyphs" font-style="italic" fill="#000" stroke="#000" stroke-width="0.35">6.65</text>
<text x="611" y="1563.5" font-size="43" font-family='"Liberation Serif", "Times New Roman", serif' text-anchor="middle" font-style="italic" fill="#000" stroke="#000" stroke-width="0.35">7</text>
<text x="696.5" y="1559" font-size="40" font-family='"Liberation Serif", "Times New Roman", serif' textLength="240.8" lengthAdjust="spacingAndGlyphs" font-style="italic" fill="#000" stroke="#000" stroke-width="0.75">Camera de zi</text>
<text x="1139.6" y="1560" font-size="43" font-family='"Liberation Serif", "Times New Roman", serif' textLength="90.4" lengthAdjust="spacingAndGlyphs" font-style="italic" fill="#000" stroke="#000" stroke-width="0.35">18.15</text>
<text x="611" y="1610.9" font-size="43" font-family='"Liberation Serif", "Times New Roman", serif' text-anchor="middle" font-style="italic" fill="#000" stroke="#000" stroke-width="0.35">8</text>
<text x="696.5" y="1606.4" font-size="40" font-family='"Liberation Serif", "Times New Roman", serif' textLength="69.2" lengthAdjust="spacingAndGlyphs" font-style="italic" fill="#000" stroke="#000" stroke-width="0.75">Hol</text>
<text x="1160.3" y="1607.4" font-size="43" font-family='"Liberation Serif", "Times New Roman", serif' textLength="69.7" lengthAdjust="spacingAndGlyphs" font-style="italic" fill="#000" stroke="#000" stroke-width="0.35">5.48</text>
<text x="611" y="1656" font-size="43" font-family='"Liberation Serif", "Times New Roman", serif' text-anchor="middle" font-style="italic" fill="#000" stroke="#000" stroke-width="0.35">9</text>
<text x="696.5" y="1651.5" font-size="40" font-family='"Liberation Serif", "Times New Roman", serif' textLength="78.9" lengthAdjust="spacingAndGlyphs" font-style="italic" fill="#000" stroke="#000" stroke-width="0.75">Baie</text>
<text x="1160.3" y="1652.5" font-size="43" font-family='"Liberation Serif", "Times New Roman", serif' textLength="69.7" lengthAdjust="spacingAndGlyphs" font-style="italic" fill="#000" stroke="#000" stroke-width="0.35">5.40</text>
<text x="522" y="1725.8" font-size="40" font-family='"Liberation Serif", "Times New Roman", serif' textLength="395" lengthAdjust="spacingAndGlyphs" font-style="italic" fill="#000" stroke="#000" stroke-width="0.75">Total suprafata utila</text>
<text x="1109.5" y="1723.4" font-size="41" font-family='"Liberation Serif", "Times New Roman", serif' textLength="153.5" lengthAdjust="spacingAndGlyphs" font-style="italic" fill="#000" stroke="#000" stroke-width="0.35">35.68 mp</text>
<text x="580.4" y="1803.8" font-size="43" font-family='"Liberation Serif", "Times New Roman", serif' textLength="40.5" lengthAdjust="spacingAndGlyphs" font-style="italic" fill="#000" stroke="#000" stroke-width="0.35">52</text>
<text x="690" y="1801.4" font-size="40" font-family='"Liberation Serif", "Times New Roman", serif' textLength="126" lengthAdjust="spacingAndGlyphs" font-style="italic" fill="#000" stroke="#000" stroke-width="0.75">Balcon</text>
<text x="1158" y="1803" font-size="43" font-family='"Liberation Serif", "Times New Roman", serif' textLength="72" lengthAdjust="spacingAndGlyphs" font-style="italic" fill="#000" stroke="#000" stroke-width="0.35">3.31</text>
<text x="526.8" y="1878.4" font-size="40" font-family='"Liberation Serif", "Times New Roman", serif' textLength="475.4" lengthAdjust="spacingAndGlyphs" font-style="italic" fill="#000" stroke="none">Total suprafata masurata</text>
<text x="1106" y="1876" font-size="41" font-family='"Liberation Serif", "Times New Roman", serif' textLength="154.6" lengthAdjust="spacingAndGlyphs" font-style="italic" fill="#000" stroke="none">38.99 mp</text>
</g>
<g stroke="#000" fill="none" stroke-linejoin="miter">
<rect x="517.8" y="1387.1" width="168.7" height="274.2" stroke-width="2.8"/>
<line x1="517.8" y1="1477.3" x2="686.5" y2="1477.3" stroke-width="2.8"/>
<line x1="517.8" y1="1523.1" x2="686.5" y2="1523.1" stroke-width="2.8"/>
<line x1="517.8" y1="1568.7" x2="686.5" y2="1568.7" stroke-width="2.8"/>
<line x1="517.8" y1="1616.2" x2="686.5" y2="1616.2" stroke-width="2.8"/>
<rect x="686.5" y="1384.6" width="388.5" height="273.6" stroke-width="2.8"/>
<line x1="686.5" y1="1475" x2="1075" y2="1475" stroke-width="2.8"/>
<line x1="686.5" y1="1520.2" x2="1075" y2="1520.2" stroke-width="2.8"/>
<line x1="686.5" y1="1566" x2="1075" y2="1566" stroke-width="2.8"/>
<line x1="686.5" y1="1611.3" x2="1075" y2="1611.3" stroke-width="2.8"/>
<rect x="1075" y="1385.8" width="187.7" height="274.2" stroke-width="2.8"/>
<line x1="1075" y1="1476.5" x2="1262.7" y2="1476.5" stroke-width="2.8"/>
<line x1="1075" y1="1521.1" x2="1262.7" y2="1521.1" stroke-width="2.8"/>
<line x1="1075" y1="1567" x2="1262.7" y2="1567" stroke-width="2.8"/>
<line x1="1075" y1="1613.3" x2="1262.7" y2="1613.3" stroke-width="2.8"/>
<line x1="686.5" y1="1384.6" x2="686.5" y2="1661.3" stroke-width="3.6"/>
<line x1="1075" y1="1384.6" x2="1075" y2="1660" stroke-width="3.6"/>
<rect x="518.2" y="1764" width="168.3" height="47.3" stroke-width="2.6"/>
<rect x="686.5" y="1761" width="388.5" height="45.5" stroke-width="2.6"/>
<rect x="1075" y="1764" width="187.7" height="47.3" stroke-width="2.6"/>
<path d="M249.2,2104.5 L925.2,2094.8 L1220,2100 L1420,2102.2 L1598.3,2100.5" stroke-width="3" fill="none" stroke-linejoin="round"/>
<path d="M249.2,2176.3 L925.2,2166.6 L1220,2172 L1420,2174.2 L1598.3,2171.3" stroke-width="3" fill="none" stroke-linejoin="round"/>
<path d="M249.2,2258 L925.2,2248 L1220,2253.2 L1420,2255.9 L1598.3,2253" stroke-width="3" fill="none" stroke-linejoin="round"/>
<path d="M249.2,2362.4 L925.2,2349.8 L1220,2356 L1420,2359.8 L1598.3,2357.5" stroke-width="3" fill="none" stroke-linejoin="round"/>
<line x1="249.2" y1="2103" x2="249.2" y2="2364" stroke-width="3.2"/>
<line x1="925.2" y1="2093.5" x2="925.2" y2="2351" stroke-width="3.4"/>
<line x1="1598.3" y1="2099" x2="1598.3" y2="2359" stroke-width="3.2"/>
<path d="M0,2629.8 C58.5,2629.4 253.5,2628.8 351,2627.4 C448.5,2626 507,2623.6 585,2621.6 C663,2619.6 756.5,2616.5 819,2615.7 C881.5,2614.9 904.8,2615.9 960,2617 C1015.2,2618.1 1089.2,2620.8 1150,2622.2 C1210.8,2623.5 1261.7,2625.6 1325,2625.1 C1388.3,2624.6 1433.3,2621.1 1530,2619.3 C1626.7,2617.6 1842.5,2615.4 1905,2614.6" stroke-width="2.2" fill="none"/>
</g>
<g fill="#000" stroke="none">
<g transform="rotate(-0.82 249 2150)">
<text x="286.9" y="2149.4" font-size="39" font-family='"Liberation Serif", "Times New Roman", serif' textLength="182.6" lengthAdjust="spacingAndGlyphs" font-style="italic" fill="#000" stroke="#000" stroke-width="0.75">Executant</text>
<text x="261.7" y="2209.6" font-size="39" font-family='"Liberation Serif", "Times New Roman", serif' textLength="646.8" lengthAdjust="spacingAndGlyphs" font-style="italic" fill="#000" stroke="#000" stroke-width="0.75">Ing. HORATAU ADRIAN CIPRIAN</text>
<text x="260.4" y="2248.7" font-size="39" font-family='"Liberation Serif", "Times New Roman", serif' textLength="409.1" lengthAdjust="spacingAndGlyphs" font-style="italic" fill="#000" stroke="#000" stroke-width="0.75">aut. RO-MB-F nr. 0287</text>
<text x="286.9" y="2302.2" font-size="39" font-family='"Liberation Serif", "Times New Roman", serif' textLength="223.1" lengthAdjust="spacingAndGlyphs" font-style="italic" fill="#000" stroke="#000" stroke-width="0.75">Receptionat</text>
</g>
<text x="1206.6" y="2145.7" font-size="39" font-family='"Liberation Serif", "Times New Roman", serif' textLength="94.7" lengthAdjust="spacingAndGlyphs" font-style="italic" fill="#000" stroke="#000" stroke-width="0.75">Data</text>
<text x="1163.8" y="2224.6" font-size="39" font-family='"Liberation Serif", "Times New Roman", serif' textLength="187.2" lengthAdjust="spacingAndGlyphs" font-style="italic" fill="#000" stroke="#000" stroke-width="0.75">23.06.2015</text>
</g>
<path d="M120.7,2092.8 A231,231 0 1 1 195.6,2121.6" fill="none" stroke="#0a0a0a" stroke-width="5.6"/>
<path d="M195.6,2121.6 A231,231 0 0 1 120.7,2092.8" fill="none" stroke="#222" stroke-width="3.2" stroke-dasharray="3 7"/>
<path id="rim" d="M140.1,2074.5 A205.5,205.5 0 1 1 345.5,2070.9" fill="none" stroke="none"/>
<text font-family='"Liberation Sans", Arial, sans-serif' font-size="21" font-weight="bold" fill="#0a0a0a" stroke="#0a0a0a" stroke-width="1.1"><textPath href="#rim" startOffset="2" textLength="1070" lengthAdjust="spacing">Persoană fizică autorizată de A.N.C.P.I. să execute lucrări de cadastru, geodezie și cartografie</textPath></text>
<g fill="#0a0a0a" stroke="#0a0a0a" stroke-width="0.5" font-weight="bold">
<text x="160.3" y="1762.2" font-family='"Liberation Sans", Arial, sans-serif' font-size="25" textLength="149.2" lengthAdjust="spacingAndGlyphs">CERTIFICAT</text>
<text x="222" y="1792.4" font-family='"Liberation Sans", Arial, sans-serif' font-size="25" textLength="32" lengthAdjust="spacingAndGlyphs">DE</text>
<text x="155.6" y="1821" font-family='"Liberation Sans", Arial, sans-serif' font-size="25" textLength="168.2" lengthAdjust="spacingAndGlyphs">AUTORIZARE</text>
<text x="123.8" y="1876.5" font-family='"Liberation Sans", Arial, sans-serif' font-size="33" textLength="231.8" lengthAdjust="spacingAndGlyphs">Seria.RO-MB-F</text>
<text x="179.4" y="1908.3" font-family='"Liberation Sans", Arial, sans-serif' font-size="31" textLength="120.6" lengthAdjust="spacingAndGlyphs">Nr. 0287</text>
<text x="96.8" y="1978" font-family='"Liberation Sans", Arial, sans-serif' font-size="40" textLength="295.2" lengthAdjust="spacingAndGlyphs">HORĂTĂU O. ADRIAN</text>
<text x="187.3" y="2019.4" font-family='"Liberation Sans", Arial, sans-serif' font-size="40" textLength="112.7" lengthAdjust="spacingAndGlyphs">CIPRIAN</text>
<text x="171.4" y="2065.4" font-family='"Liberation Sans", Arial, sans-serif' font-size="33" textLength="147.6" lengthAdjust="spacingAndGlyphs">Categoria</text>
</g>
<g fill="none" stroke="#111" stroke-linecap="round" stroke-linejoin="round">
<path d="M0,2222.2 C40,2210 80,2198 110,2188.5 C150,2170 195,2147 230.4,2129.6 L256,2116.8" stroke-width="1.9" fill="none"/>
<path d="M76.8,2200 C95,2197 115,2194 133,2191 C165,2180 200,2166 230.4,2152.6 C250,2144 268,2135 284,2127" stroke-width="1.9" fill="none"/>
<path d="M0,2222.2 C8,2220 15,2218.5 23,2217.9 C34,2217 46,2217.5 56.3,2219.2 C67,2221 77,2225 84.5,2229.4 C93,2234 100,2240 105,2244.8" stroke-width="1.7" fill="none"/>
<path d="M112.6,2194.9 C120,2194.2 127,2194.2 133,2194.9 C144,2196.5 154,2201 163.8,2206.4 C176,2213 188,2223 199.6,2229.4 C207,2233.5 214,2236 220.1,2235.8 C225,2235.5 228,2233 229,2229.4 C230.5,2223 230.6,2214 230.4,2206.4 C229.5,2188 227,2168 225.2,2150 C223.5,2122 222.9,2093 222.7,2065.6 L223.5,2000" stroke-width="1.8" fill="none"/>
<path d="M237,1998.7 C238,2012 238.8,2026 239.3,2040 C240.2,2057 241,2075 241.9,2091.2 C243,2102 245,2113 245.7,2124.5 C246,2134 245,2144 243.2,2152.6 C242,2158 240.8,2163 239.3,2168" stroke-width="1.8" fill="none"/>
<path d="M241,2128 C244,2140 243.5,2155 240,2167" stroke-width="4.2" fill="none"/>
<path d="M236,2127 L246,2122" stroke-width="3" fill="none"/>
<path d="M243,2081 C250,2078 255,2082 252,2088 C249,2092 254,2092 256,2096 C257,2100 252,2103 247,2103" stroke-width="2.6" fill="none"/>
<path d="M105,2095 C104.8,2140 104.6,2200 105,2245" stroke-width="2" fill="none"/>
<path d="M113.9,2095 C113.8,2150 114.5,2200 116.5,2250" stroke-width="2" fill="none"/>
<path d="M109.5,2150 L110.5,2245" stroke-width="1.2" fill="none" stroke-dasharray="4 3"/>
<path d="M107.5,2245 C108.5,2265 110,2285 111,2306" stroke-width="2.2" fill="none"/>
<path d="M103.7,2245 C102.5,2270 102,2300 102.4,2321.5 C102.6,2331 103.5,2339 106.2,2344.6 C108.5,2349 112.5,2351.5 117.7,2352.3" stroke-width="1.6" fill="none"/>
</g>
<g transform="translate(1364.1 1837.9) rotate(-26.4)">
<rect x="0" y="0" width="760" height="193" fill="none" stroke="#2a2a2a" stroke-width="2.5"/>
<g fill="#444" stroke="none" opacity="0.7" font-family='"Liberation Serif", "Times New Roman", serif'>
<text x="5" y="40" font-size="35" textLength="668" lengthAdjust="spacingAndGlyphs">Oficiul de Cadastru și Publicitate Imobiliară</text>
<text x="250" y="78" font-size="29" textLength="187" lengthAdjust="spacingAndGlyphs">BUCUREȘTI</text>
<text x="240" y="126" font-size="31" textLength="205" lengthAdjust="spacingAndGlyphs">POPA ION</text>
<text x="183" y="170" font-size="31" textLength="324" lengthAdjust="spacingAndGlyphs">Inspector de cadastru</text>
</g></g>
<g fill="none" stroke="#0c0c0c" stroke-linecap="round" stroke-linejoin="round">
<path d="M1674,1779.3 C1685,1825 1698,1870 1710.2,1911.9 C1720,1940 1730,1962 1739.4,1982.5 L1730.8,1956.7 L1736,1918.8" stroke-width="3.4" fill="none"/>
<path d="M1691.2,1812 L1700,1838 L1694,1815 L1772.2,1965.3 L1775.6,1946.3 L1751.5,1825.8 L1770.4,1820.7 L1822.1,1805.2 L1846.2,1793.1" stroke-width="3.4" fill="none"/>
</g>
<text x="879" y="2093" font-family='"DejaVu Sans Light", "DejaVu Sans", "Liberation Sans", sans-serif' font-weight="200" font-size="62" fill="#111" stroke="#111" stroke-width="0.9" transform="rotate(-13.5 879 2093)" textLength="246" lengthAdjust="spacing">39817</text>
<g transform="translate(932 2157) rotate(-18)" font-family='"DejaVu Sans Light", "DejaVu Sans", "Liberation Sans", sans-serif' font-weight="200" font-size="50" fill="#222" stroke="#222" stroke-width="1.0">
<text x="0" y="0" textLength="60" lengthAdjust="spacingAndGlyphs">25.</text>
<text x="81" y="0" textLength="69" lengthAdjust="spacingAndGlyphs">IUN.</text>
<text x="163" y="0" textLength="75" lengthAdjust="spacingAndGlyphs">2015</text>
</g>
<path d="M1734.4,496h1.2v1.2h-1.2zM1769.9,455.9h1.2v1.2h-1.2zM1732.7,476.1h1.2v1.2h-1.2zM1761.6,528.4h1.2v1.2h-1.2zM1734.5,420.8h1.2v1.2h-1.2zM1765.3,500.3h1.2v1.2h-1.2zM1778.5,523.2h1.2v1.2h-1.2zM1752.4,466.7h1.2v1.2h-1.2zM1795.1,466h1.2v1.2h-1.2zM1741.4,427.8h1.2v1.2h-1.2zM1755.5,485.5h1.2v1.2h-1.2zM1748.5,476.2h1.2v1.2h-1.2zM1758.4,510.2h1.2v1.2h-1.2zM1771.5,488.4h1.2v1.2h-1.2zM1725.4,510.6h1.2v1.2h-1.2zM1731.3,471.3h1.2v1.2h-1.2zM1730.4,479.1h1.2v1.2h-1.2zM1741.5,488.6h1.2v1.2h-1.2zM1806.8,476.8h1.2v1.2h-1.2zM1767.5,419.5h1.2v1.2h-1.2zM1749.4,508.8h1.2v1.2h-1.2zM1752.5,495.7h1.2v1.2h-1.2zM1755.7,433.7h1.2v1.2h-1.2zM1763,442.5h1.2v1.2h-1.2zM1783.9,456.3h1.2v1.2h-1.2zM1765,479.1h1.2v1.2h-1.2zM1769.2,451.9h1.2v1.2h-1.2zM1770,473.4h1.2v1.2h-1.2zM1774.2,507.1h1.2v1.2h-1.2zM1756.3,443.9h1.2v1.2h-1.2zM1766.3,500.1h1.2v1.2h-1.2zM1780.3,462h1.2v1.2h-1.2zM1762.9,501.9h1.2v1.2h-1.2zM1758.5,488.4h1.2v1.2h-1.2zM1756.9,452.1h1.2v1.2h-1.2zM1737.8,461.2h1.2v1.2h-1.2zM1763.5,547h1.2v1.2h-1.2zM1769.6,526.4h1.2v1.2h-1.2zM1766.4,510.4h1.2v1.2h-1.2zM1756.9,513.7h1.2v1.2h-1.2zM1782.4,464.3h1.2v1.2h-1.2zM1742.9,567.2h1.2v1.2h-1.2zM1757.9,522.7h1.2v1.2h-1.2zM1768,427.9h1.2v1.2h-1.2zM1792.9,558.9h1.2v1.2h-1.2zM1756.8,512.9h1.2v1.2h-1.2zM1756,439.2h1.2v1.2h-1.2zM1752.2,495.8h1.2v1.2h-1.2zM1771.9,510.9h1.2v1.2h-1.2zM1755,540h1.2v1.2h-1.2zM1741.8,514.7h1.2v1.2h-1.2zM1771.8,465.9h1.2v1.2h-1.2zM1725.4,438.2h1.2v1.2h-1.2zM1757.8,502.8h1.2v1.2h-1.2zM1778.8,433.8h1.2v1.2h-1.2zM1754,508.2h1.2v1.2h-1.2zM1751.5,372.4h1.2v1.2h-1.2zM1766.9,583.1h1.2v1.2h-1.2zM1770.1,437.7h1.2v1.2h-1.2zM1747.4,489h1.2v1.2h-1.2zM1793.8,506.8h1.2v1.2h-1.2zM1755.8,549.1h1.2v1.2h-1.2zM1752.7,562.8h1.2v1.2h-1.2zM1743,457.6h1.2v1.2h-1.2zM1765.5,543.1h1.2v1.2h-1.2zM1764.5,492.6h1.2v1.2h-1.2zM1724.9,446.9h1.2v1.2h-1.2zM1744.2,455h1.2v1.2h-1.2zM1763.4,463.9h1.2v1.2h-1.2zM1766.6,482.7h1.2v1.2h-1.2zM1748.7,484.3h1.2v1.2h-1.2zM1760.9,517.6h1.2v1.2h-1.2zM1746.4,468.5h1.2v1.2h-1.2zM1732.2,551.2h1.2v1.2h-1.2zM1777.2,471h1.2v1.2h-1.2zM1746.3,423.4h1.2v1.2h-1.2zM1756.7,488.3h1.2v1.2h-1.2zM1788.9,490.1h1.2v1.2h-1.2zM1741.6,369h1.2v1.2h-1.2zM1776.6,487.5h1.2v1.2h-1.2zM1728.3,487.1h1.2v1.2h-1.2zM1728.3,635.6h1.2v1.2h-1.2zM1771.9,504.8h1.2v1.2h-1.2zM1751.2,382.7h1.2v1.2h-1.2zM1752,409h1.2v1.2h-1.2zM1763.5,382.8h1.2v1.2h-1.2zM1739.5,533.9h1.2v1.2h-1.2zM1780.3,425.8h1.2v1.2h-1.2zM1729.5,518.6h1.2v1.2h-1.2zM1767.6,434.6h1.2v1.2h-1.2zM1742.9,447.8h1.2v1.2h-1.2zM1735,448.4h1.2v1.2h-1.2zM1774,510h1.2v1.2h-1.2zM1786.9,475.1h1.2v1.2h-1.2zM1751.8,434.8h1.2v1.2h-1.2zM1752,419.9h1.2v1.2h-1.2zM1725.6,510.4h1.2v1.2h-1.2zM1777,516.7h1.2v1.2h-1.2zM1775.3,490.4h1.2v1.2h-1.2zM1742.5,482.9h1.2v1.2h-1.2zM1748,429h1.2v1.2h-1.2zM1726.9,412.3h1.2v1.2h-1.2zM1753.9,485.8h1.2v1.2h-1.2zM1746.4,543.3h1.2v1.2h-1.2zM1756.9,505.2h1.2v1.2h-1.2zM1773.5,442.1h1.2v1.2h-1.2zM1722.5,512.9h1.2v1.2h-1.2zM1743,538h1.2v1.2h-1.2zM1759.4,524.3h1.2v1.2h-1.2zM1766.2,385.4h1.2v1.2h-1.2zM1765.5,448.7h1.2v1.2h-1.2zM1741.9,459.4h1.2v1.2h-1.2zM1766.3,518.8h1.2v1.2h-1.2zM1770.2,404.3h1.2v1.2h-1.2zM1744.6,372.1h1.2v1.2h-1.2zM1752.4,506h1.2v1.2h-1.2zM1741.8,490h1.2v1.2h-1.2zM1757.7,524.3h1.2v1.2h-1.2zM1740.9,441.7h1.2v1.2h-1.2zM1741.8,557.9h1.2v1.2h-1.2zM1771.4,473.4h1.2v1.2h-1.2zM1757.6,484.1h1.2v1.2h-1.2zM1757.2,469.6h1.2v1.2h-1.2zM1748.7,422.5h1.2v1.2h-1.2zM1743.7,553.3h1.2v1.2h-1.2zM1762.6,481.9h1.2v1.2h-1.2zM1750.6,481.8h1.2v1.2h-1.2zM1759.7,449.9h1.2v1.2h-1.2zM1757.1,489.8h1.2v1.2h-1.2zM1742,443.5h1.2v1.2h-1.2zM1738,431.1h1.2v1.2h-1.2zM1768.2,372.8h1.2v1.2h-1.2zM1749.7,451.5h1.2v1.2h-1.2zM1744.1,483.4h1.2v1.2h-1.2zM1772,482.4h1.2v1.2h-1.2zM1751.8,451.4h1.2v1.2h-1.2zM1751.9,520h1.2v1.2h-1.2zM1747.7,427.4h1.2v1.2h-1.2zM1733.8,429.2h1.2v1.2h-1.2zM1731.8,528.5h1.2v1.2h-1.2zM1759.7,468.3h1.2v1.2h-1.2zM1777.4,449.4h1.2v1.2h-1.2zM1766,515h1.2v1.2h-1.2zM1729.3,408.9h1.2v1.2h-1.2zM1739.2,519.8h1.2v1.2h-1.2zM1774.7,423.8h1.2v1.2h-1.2zM1770.8,461.8h1.2v1.2h-1.2zM1747.7,454.2h1.2v1.2h-1.2zM1748.8,397.2h1.2v1.2h-1.2zM1738,423.4h1.2v1.2h-1.2zM1761.8,573h1.2v1.2h-1.2zM1797.7,463.9h1.2v1.2h-1.2zM1726.5,460.7h1.2v1.2h-1.2zM1739,568.2h1.2v1.2h-1.2zM1763.1,446.2h1.2v1.2h-1.2zM1769,503.1h1.2v1.2h-1.2zM1728,455.1h1.2v1.2h-1.2zM1750.2,479.9h1.2v1.2h-1.2zM1756.1,463.7h1.2v1.2h-1.2zM1757,452.6h1.2v1.2h-1.2zM1739.7,547.2h1.2v1.2h-1.2zM1759.8,498.7h1.2v1.2h-1.2zM1728.5,471.5h1.2v1.2h-1.2zM1767.1,420.9h1.2v1.2h-1.2zM1771.6,461.5h1.2v1.2h-1.2zM1760.4,473h1.2v1.2h-1.2zM1757.5,533.2h1.2v1.2h-1.2zM1747.5,549.4h1.2v1.2h-1.2zM1741.5,437.1h1.2v1.2h-1.2zM1765.4,431h1.2v1.2h-1.2zM1748.1,519.8h1.2v1.2h-1.2zM1773.4,399.1h1.2v1.2h-1.2zM1762.1,563.8h1.2v1.2h-1.2zM1773.1,468.2h1.2v1.2h-1.2zM1744.4,465.7h1.2v1.2h-1.2zM1735.6,467.1h1.2v1.2h-1.2zM1751,472.4h1.2v1.2h-1.2zM1772.9,468.6h1.2v1.2h-1.2zM1730.7,526.3h1.2v1.2h-1.2zM1736.8,458.9h1.2v1.2h-1.2zM1751.9,463.5h1.2v1.2h-1.2zM1738,467.8h1.2v1.2h-1.2zM1788.9,451.7h1.2v1.2h-1.2zM1751.8,529.6h1.2v1.2h-1.2zM1765.9,513.3h1.2v1.2h-1.2zM1767.8,390.4h1.2v1.2h-1.2zM1740.2,484.8h1.2v1.2h-1.2zM1762,537.2h1.2v1.2h-1.2zM1761.5,468.3h1.2v1.2h-1.2zM1754.6,469.5h1.2v1.2h-1.2zM1758,509.3h1.2v1.2h-1.2zM1748.6,442.4h1.2v1.2h-1.2zM1740.3,528.4h1.2v1.2h-1.2zM1774.5,523.6h1.2v1.2h-1.2zM1767.7,516.5h1.2v1.2h-1.2zM1754,508.9h1.2v1.2h-1.2zM1737.2,469.9h1.2v1.2h-1.2zM1742.3,511.7h1.2v1.2h-1.2zM1744.7,474.1h1.2v1.2h-1.2zM1760.4,540h1.2v1.2h-1.2zM1741.3,436.8h1.2v1.2h-1.2zM1767.1,429.2h1.2v1.2h-1.2zM1761.2,453.3h1.2v1.2h-1.2zM1752.3,397.1h1.2v1.2h-1.2zM1765.4,456.5h1.2v1.2h-1.2zM1739.6,572.5h1.2v1.2h-1.2zM1765.4,636.9h1.2v1.2h-1.2zM1760.5,463.3h1.2v1.2h-1.2zM1755.7,551.3h1.2v1.2h-1.2zM1753.6,499.3h1.2v1.2h-1.2zM1762.3,438h1.2v1.2h-1.2zM1756.1,456.4h1.2v1.2h-1.2zM1734.1,518.2h1.2v1.2h-1.2zM1764.7,482.4h1.2v1.2h-1.2zM1739.5,388.7h1.2v1.2h-1.2zM1761.8,474.6h1.2v1.2h-1.2zM1727.1,476.3h1.2v1.2h-1.2zM1729.7,477.8h1.2v1.2h-1.2zM1756.3,495h1.2v1.2h-1.2zM1757.5,486.7h1.2v1.2h-1.2zM1735.8,461.7h1.2v1.2h-1.2zM1745.8,468.4h1.2v1.2h-1.2zM1758.3,506.9h1.2v1.2h-1.2zM1780.2,363.4h1.2v1.2h-1.2zM1760.4,470.1h1.2v1.2h-1.2zM1790.4,521h1.2v1.2h-1.2zM1727.6,497.1h1.2v1.2h-1.2zM1745.7,523.7h1.2v1.2h-1.2zM1737.1,474.4h1.2v1.2h-1.2zM1751.9,474.6h1.2v1.2h-1.2zM1744.7,396.3h1.2v1.2h-1.2zM1761.4,524h1.2v1.2h-1.2zM1752.9,433.2h1.2v1.2h-1.2zM1757.2,504.4h1.2v1.2h-1.2zM1751.2,478.4h1.2v1.2h-1.2zM1776.5,428.7h1.2v1.2h-1.2zM1745.1,393.2h1.2v1.2h-1.2zM1742.8,445.7h1.2v1.2h-1.2zM1738.6,447.8h1.2v1.2h-1.2zM1782.8,470.2h1.2v1.2h-1.2zM1752.2,577.9h1.2v1.2h-1.2zM1753,401h1.2v1.2h-1.2zM1760.4,436.8h1.2v1.2h-1.2zM1780.2,422.9h1.2v1.2h-1.2zM1744.7,406.7h1.2v1.2h-1.2zM1755.6,433.3h1.2v1.2h-1.2zM1753,462h1.2v1.2h-1.2zM1744.2,521.4h1.2v1.2h-1.2zM1769,481.8h1.2v1.2h-1.2zM1739.6,430.8h1.2v1.2h-1.2zM1758.3,586.6h1.2v1.2h-1.2zM1746.7,443.7h1.2v1.2h-1.2zM1742.8,429.7h1.2v1.2h-1.2zM1738.4,469.8h1.2v1.2h-1.2zM1776.9,479h1.2v1.2h-1.2zM1745.8,406.3h1.2v1.2h-1.2zM1757.4,477.8h1.2v1.2h-1.2zM1734.4,430.1h1.2v1.2h-1.2zM1753.3,524.6h1.2v1.2h-1.2zM1764,488.3h1.2v1.2h-1.2zM1753.1,1302.8h1.2v1.2h-1.2zM1756.9,1376.9h1.2v1.2h-1.2zM1743.4,1275.3h1.2v1.2h-1.2zM1772.2,1279.4h1.2v1.2h-1.2zM1774.1,1288.2h1.2v1.2h-1.2zM1758.7,1275.2h1.2v1.2h-1.2zM1740.4,1251.2h1.2v1.2h-1.2zM1783.6,1315.8h1.2v1.2h-1.2zM1764.3,1328.1h1.2v1.2h-1.2zM1763.8,1330.9h1.2v1.2h-1.2zM1753.8,1281.1h1.2v1.2h-1.2zM1768.8,1275.9h1.2v1.2h-1.2zM1741,1281h1.2v1.2h-1.2zM1750.5,1314.5h1.2v1.2h-1.2zM1748.4,1247.5h1.2v1.2h-1.2zM1753,1352.1h1.2v1.2h-1.2zM1756.4,1296.4h1.2v1.2h-1.2zM1757.1,1301.8h1.2v1.2h-1.2zM1768.1,1345.8h1.2v1.2h-1.2zM1737.3,1344.4h1.2v1.2h-1.2zM1757,1277.2h1.2v1.2h-1.2zM1785.8,1283.2h1.2v1.2h-1.2zM1780.3,1328.7h1.2v1.2h-1.2zM1744.6,1309.5h1.2v1.2h-1.2zM1765.8,1285h1.2v1.2h-1.2zM1729.1,1276.2h1.2v1.2h-1.2zM1754.7,1245.7h1.2v1.2h-1.2zM1778.9,1280.2h1.2v1.2h-1.2zM1752.3,1278h1.2v1.2h-1.2zM1747.6,1259h1.2v1.2h-1.2zM1758.1,1302.5h1.2v1.2h-1.2zM1750.9,1286.4h1.2v1.2h-1.2zM1740.3,1310.9h1.2v1.2h-1.2zM1748,1298.6h1.2v1.2h-1.2zM1746.1,1269.4h1.2v1.2h-1.2zM1759.6,1241.6h1.2v1.2h-1.2zM1786.6,1288.5h1.2v1.2h-1.2zM1756.1,1260.6h1.2v1.2h-1.2zM1776.1,1345.4h1.2v1.2h-1.2zM1760.6,1235.3h1.2v1.2h-1.2zM1750.9,1314.6h1.2v1.2h-1.2zM1750.9,1242.6h1.2v1.2h-1.2zM1742.7,1259.1h1.2v1.2h-1.2zM1757.2,1264.1h1.2v1.2h-1.2zM1757.2,1401.7h1.2v1.2h-1.2zM1778.3,1248.5h1.2v1.2h-1.2zM1761.1,1293.5h1.2v1.2h-1.2zM1755.3,1331.7h1.2v1.2h-1.2zM1753,1277h1.2v1.2h-1.2zM1752.5,1286h1.2v1.2h-1.2zM1772.4,1321h1.2v1.2h-1.2zM1740.9,1272.3h1.2v1.2h-1.2zM1747.4,1322.6h1.2v1.2h-1.2zM1759.7,1325.6h1.2v1.2h-1.2zM1756.3,1213.7h1.2v1.2h-1.2zM1762.4,1299.1h1.2v1.2h-1.2zM1763.1,1237.9h1.2v1.2h-1.2zM1758,1262.5h1.2v1.2h-1.2zM1748.8,1304.1h1.2v1.2h-1.2zM1761.2,1254.3h1.2v1.2h-1.2zM1736.5,1191h1.2v1.2h-1.2zM1750.1,1334.9h1.2v1.2h-1.2zM1756.3,1199.9h1.2v1.2h-1.2zM1746.6,1306.9h1.2v1.2h-1.2zM1777.1,1336.7h1.2v1.2h-1.2zM1761.4,1297.9h1.2v1.2h-1.2zM1744.3,1271.9h1.2v1.2h-1.2zM1753,1259h1.2v1.2h-1.2zM1757.8,1274.3h1.2v1.2h-1.2zM1761,1347.4h1.2v1.2h-1.2zM1765.9,1306.7h1.2v1.2h-1.2zM1754.1,1229.2h1.2v1.2h-1.2zM1755.6,1311.7h1.2v1.2h-1.2zM1744.9,1340.2h1.2v1.2h-1.2zM1753,1304.9h1.2v1.2h-1.2zM1753.1,1239.8h1.2v1.2h-1.2zM1781.8,1243.5h1.2v1.2h-1.2zM1768,1267.8h1.2v1.2h-1.2zM1760.3,1257.8h1.2v1.2h-1.2zM1752,1326.8h1.2v1.2h-1.2zM1780.3,1256.1h1.2v1.2h-1.2zM1757.1,1327.9h1.2v1.2h-1.2zM1749.4,1318.4h1.2v1.2h-1.2zM1747.6,1314.2h1.2v1.2h-1.2zM1762.2,1338.5h1.2v1.2h-1.2zM1761.4,1242.3h1.2v1.2h-1.2zM1765,1245.9h1.2v1.2h-1.2zM1766,1350.4h1.2v1.2h-1.2zM1764.1,1267.9h1.2v1.2h-1.2zM1771.3,1296.7h1.2v1.2h-1.2zM1742.1,1275.8h1.2v1.2h-1.2zM1774,1277.8h1.2v1.2h-1.2zM1758.5,1276.3h1.2v1.2h-1.2zM1736.8,1269.6h1.2v1.2h-1.2zM1761.3,1298.3h1.2v1.2h-1.2zM1754.9,1204.6h1.2v1.2h-1.2zM1771.7,1318.8h1.2v1.2h-1.2zM1769.3,1342h1.2v1.2h-1.2zM1751.7,1265.8h1.2v1.2h-1.2zM1760.8,1356.9h1.2v1.2h-1.2zM1736.8,1280.8h1.2v1.2h-1.2zM1748.4,1312.4h1.2v1.2h-1.2zM1774.6,1278.2h1.2v1.2h-1.2zM1742.1,1292h1.2v1.2h-1.2zM1753.6,1228.3h1.2v1.2h-1.2zM1767.6,1269.1h1.2v1.2h-1.2zM1765.2,1237.4h1.2v1.2h-1.2zM1770.2,1232.4h1.2v1.2h-1.2zM1769.6,1217.5h1.2v1.2h-1.2zM1773.6,1275h1.2v1.2h-1.2zM1738.3,1280.6h1.2v1.2h-1.2zM1761,1250.4h1.2v1.2h-1.2zM1751.1,1300.8h1.2v1.2h-1.2zM1755,1167.4h1.2v1.2h-1.2zM1751.8,1307.1h1.2v1.2h-1.2zM1760.6,1330.4h1.2v1.2h-1.2zM1748.7,1392.1h1.2v1.2h-1.2zM1766.6,1302.5h1.2v1.2h-1.2zM1770,1328.2h1.2v1.2h-1.2zM1758.2,1265.2h1.2v1.2h-1.2zM1771.3,1359.3h1.2v1.2h-1.2zM1730.5,1325.7h1.2v1.2h-1.2zM1763.5,1352.4h1.2v1.2h-1.2zM1760.9,1364.1h1.2v1.2h-1.2zM1759,1384.8h1.2v1.2h-1.2zM1748.7,1341.2h1.2v1.2h-1.2zM1761.5,1366.4h1.2v1.2h-1.2zM1768,1382.7h1.2v1.2h-1.2zM1750.3,1375.7h1.2v1.2h-1.2zM1763.5,1327.1h1.2v1.2h-1.2zM1755.1,1395.9h1.2v1.2h-1.2zM1768,1339.7h1.2v1.2h-1.2zM1723.4,1333.8h1.2v1.2h-1.2zM1747.2,1351.7h1.2v1.2h-1.2zM1789.3,1366.4h1.2v1.2h-1.2zM1761.4,1329.4h1.2v1.2h-1.2zM1740.4,1345.4h1.2v1.2h-1.2zM1750.5,1416.2h1.2v1.2h-1.2zM1751.3,1336.5h1.2v1.2h-1.2zM1772.8,1351.7h1.2v1.2h-1.2zM1739.7,1378.4h1.2v1.2h-1.2zM1752.6,1320.8h1.2v1.2h-1.2zM1761.5,1360.7h1.2v1.2h-1.2zM1752.3,1365.3h1.2v1.2h-1.2zM1768.5,1330.6h1.2v1.2h-1.2zM1728.2,1297.4h1.2v1.2h-1.2zM1755.2,1377.1h1.2v1.2h-1.2zM1771,1380.6h1.2v1.2h-1.2zM1783,1350.4h1.2v1.2h-1.2zM1771.8,1316.4h1.2v1.2h-1.2zM1766.6,1358.6h1.2v1.2h-1.2zM1755.7,1340.3h1.2v1.2h-1.2zM1741.4,1353.1h1.2v1.2h-1.2zM1774.9,1341.9h1.2v1.2h-1.2zM1764.4,1335.4h1.2v1.2h-1.2zM1760.6,1327.8h1.2v1.2h-1.2zM1762.3,1345.2h1.2v1.2h-1.2zM1761.4,1336.7h1.2v1.2h-1.2zM1740.5,1342.8h1.2v1.2h-1.2zM1771.5,1384.7h1.2v1.2h-1.2zM1752.5,1367.6h1.2v1.2h-1.2zM1767.6,1358.6h1.2v1.2h-1.2zM1735.3,1357.1h1.2v1.2h-1.2zM1743.4,1375.9h1.2v1.2h-1.2zM1768,1363.6h1.2v1.2h-1.2zM1721.5,1363.7h1.2v1.2h-1.2zM1766.8,1321.9h1.2v1.2h-1.2zM1770.6,1351.7h1.2v1.2h-1.2zM1754.4,1334.3h1.2v1.2h-1.2zM1742.7,1340.5h1.2v1.2h-1.2zM1800.2,1354.5h1.2v1.2h-1.2zM1759.9,1335.7h1.2v1.2h-1.2zM1748.4,1337.9h1.2v1.2h-1.2zM1744.6,1369.3h1.2v1.2h-1.2zM1753.2,1369.1h1.2v1.2h-1.2zM1740.8,1370.4h1.2v1.2h-1.2zM1756.6,1364.7h1.2v1.2h-1.2zM1755.5,1330.5h1.2v1.2h-1.2zM1773.9,1340.4h1.2v1.2h-1.2zM1754.9,1330.5h1.2v1.2h-1.2zM1759.9,1341.4h1.2v1.2h-1.2zM1760.9,1357.6h1.2v1.2h-1.2zM1747.4,1319h1.2v1.2h-1.2zM1763.1,1370.2h1.2v1.2h-1.2zM1766.7,1324.8h1.2v1.2h-1.2zM1765.5,1358.5h1.2v1.2h-1.2zM1761,1359.4h1.2v1.2h-1.2zM1752.5,1354.7h1.2v1.2h-1.2zM1770,1338.9h1.2v1.2h-1.2zM1736.8,1347.7h1.2v1.2h-1.2zM1759.7,1309.4h1.2v1.2h-1.2zM1747.5,1363h1.2v1.2h-1.2zM1754.9,1352h1.2v1.2h-1.2zM1739.4,1369.9h1.2v1.2h-1.2zM1781.6,1345.6h1.2v1.2h-1.2zM1746.7,1324.5h1.2v1.2h-1.2zM1769.5,1352.3h1.2v1.2h-1.2zM1745.9,1376.7h1.2v1.2h-1.2zM1767.7,1363.3h1.2v1.2h-1.2zM1732.4,1347.7h1.2v1.2h-1.2zM1765.8,1323.1h1.2v1.2h-1.2zM1770,1381.5h1.2v1.2h-1.2zM1771.5,1334.1h1.2v1.2h-1.2zM1747.1,1370.7h1.2v1.2h-1.2zM1770.9,1377h1.2v1.2h-1.2zM1773.8,1347.8h1.2v1.2h-1.2zM1751.3,1309.2h1.2v1.2h-1.2zM1768,1400.1h1.2v1.2h-1.2zM1750.5,1339.5h1.2v1.2h-1.2zM1766.1,1358.2h1.2v1.2h-1.2zM1737.8,1334.3h1.2v1.2h-1.2zM1741.6,1394.5h1.2v1.2h-1.2zM1747,1368.8h1.2v1.2h-1.2zM1783.8,1391.7h1.2v1.2h-1.2zM1777,1385.9h1.2v1.2h-1.2zM1739.7,1342.4h1.2v1.2h-1.2zM1746.8,1343.6h1.2v1.2h-1.2zM1793.7,1313.1h1.2v1.2h-1.2zM1764.8,1322.8h1.2v1.2h-1.2zM1775.7,1378.6h1.2v1.2h-1.2zM1749.8,1395.5h1.2v1.2h-1.2zM1758,1378.7h1.2v1.2h-1.2zM1761.4,1337.7h1.2v1.2h-1.2zM1751.7,1347.4h1.2v1.2h-1.2zM1765.6,1352.8h1.2v1.2h-1.2zM1790,1345.8h1.2v1.2h-1.2zM1750.5,1334.2h1.2v1.2h-1.2zM1746.1,1318.3h1.2v1.2h-1.2zM1743.2,1369.9h1.2v1.2h-1.2zM1757.8,1346.2h1.2v1.2h-1.2zM1761.9,1373.5h1.2v1.2h-1.2zM1765.6,1367h1.2v1.2h-1.2zM1749.2,1344.3h1.2v1.2h-1.2zM1746.1,1347.9h1.2v1.2h-1.2zM1745.6,1341.8h1.2v1.2h-1.2zM1754.6,1345.2h1.2v1.2h-1.2zM1753.3,1339.2h1.2v1.2h-1.2zM1775.3,1342.5h1.2v1.2h-1.2zM1742.8,1354.3h1.2v1.2h-1.2zM1741.8,1326.4h1.2v1.2h-1.2z" fill="#b8b8b8" stroke="none"/>
</svg>
</body>
</html>
